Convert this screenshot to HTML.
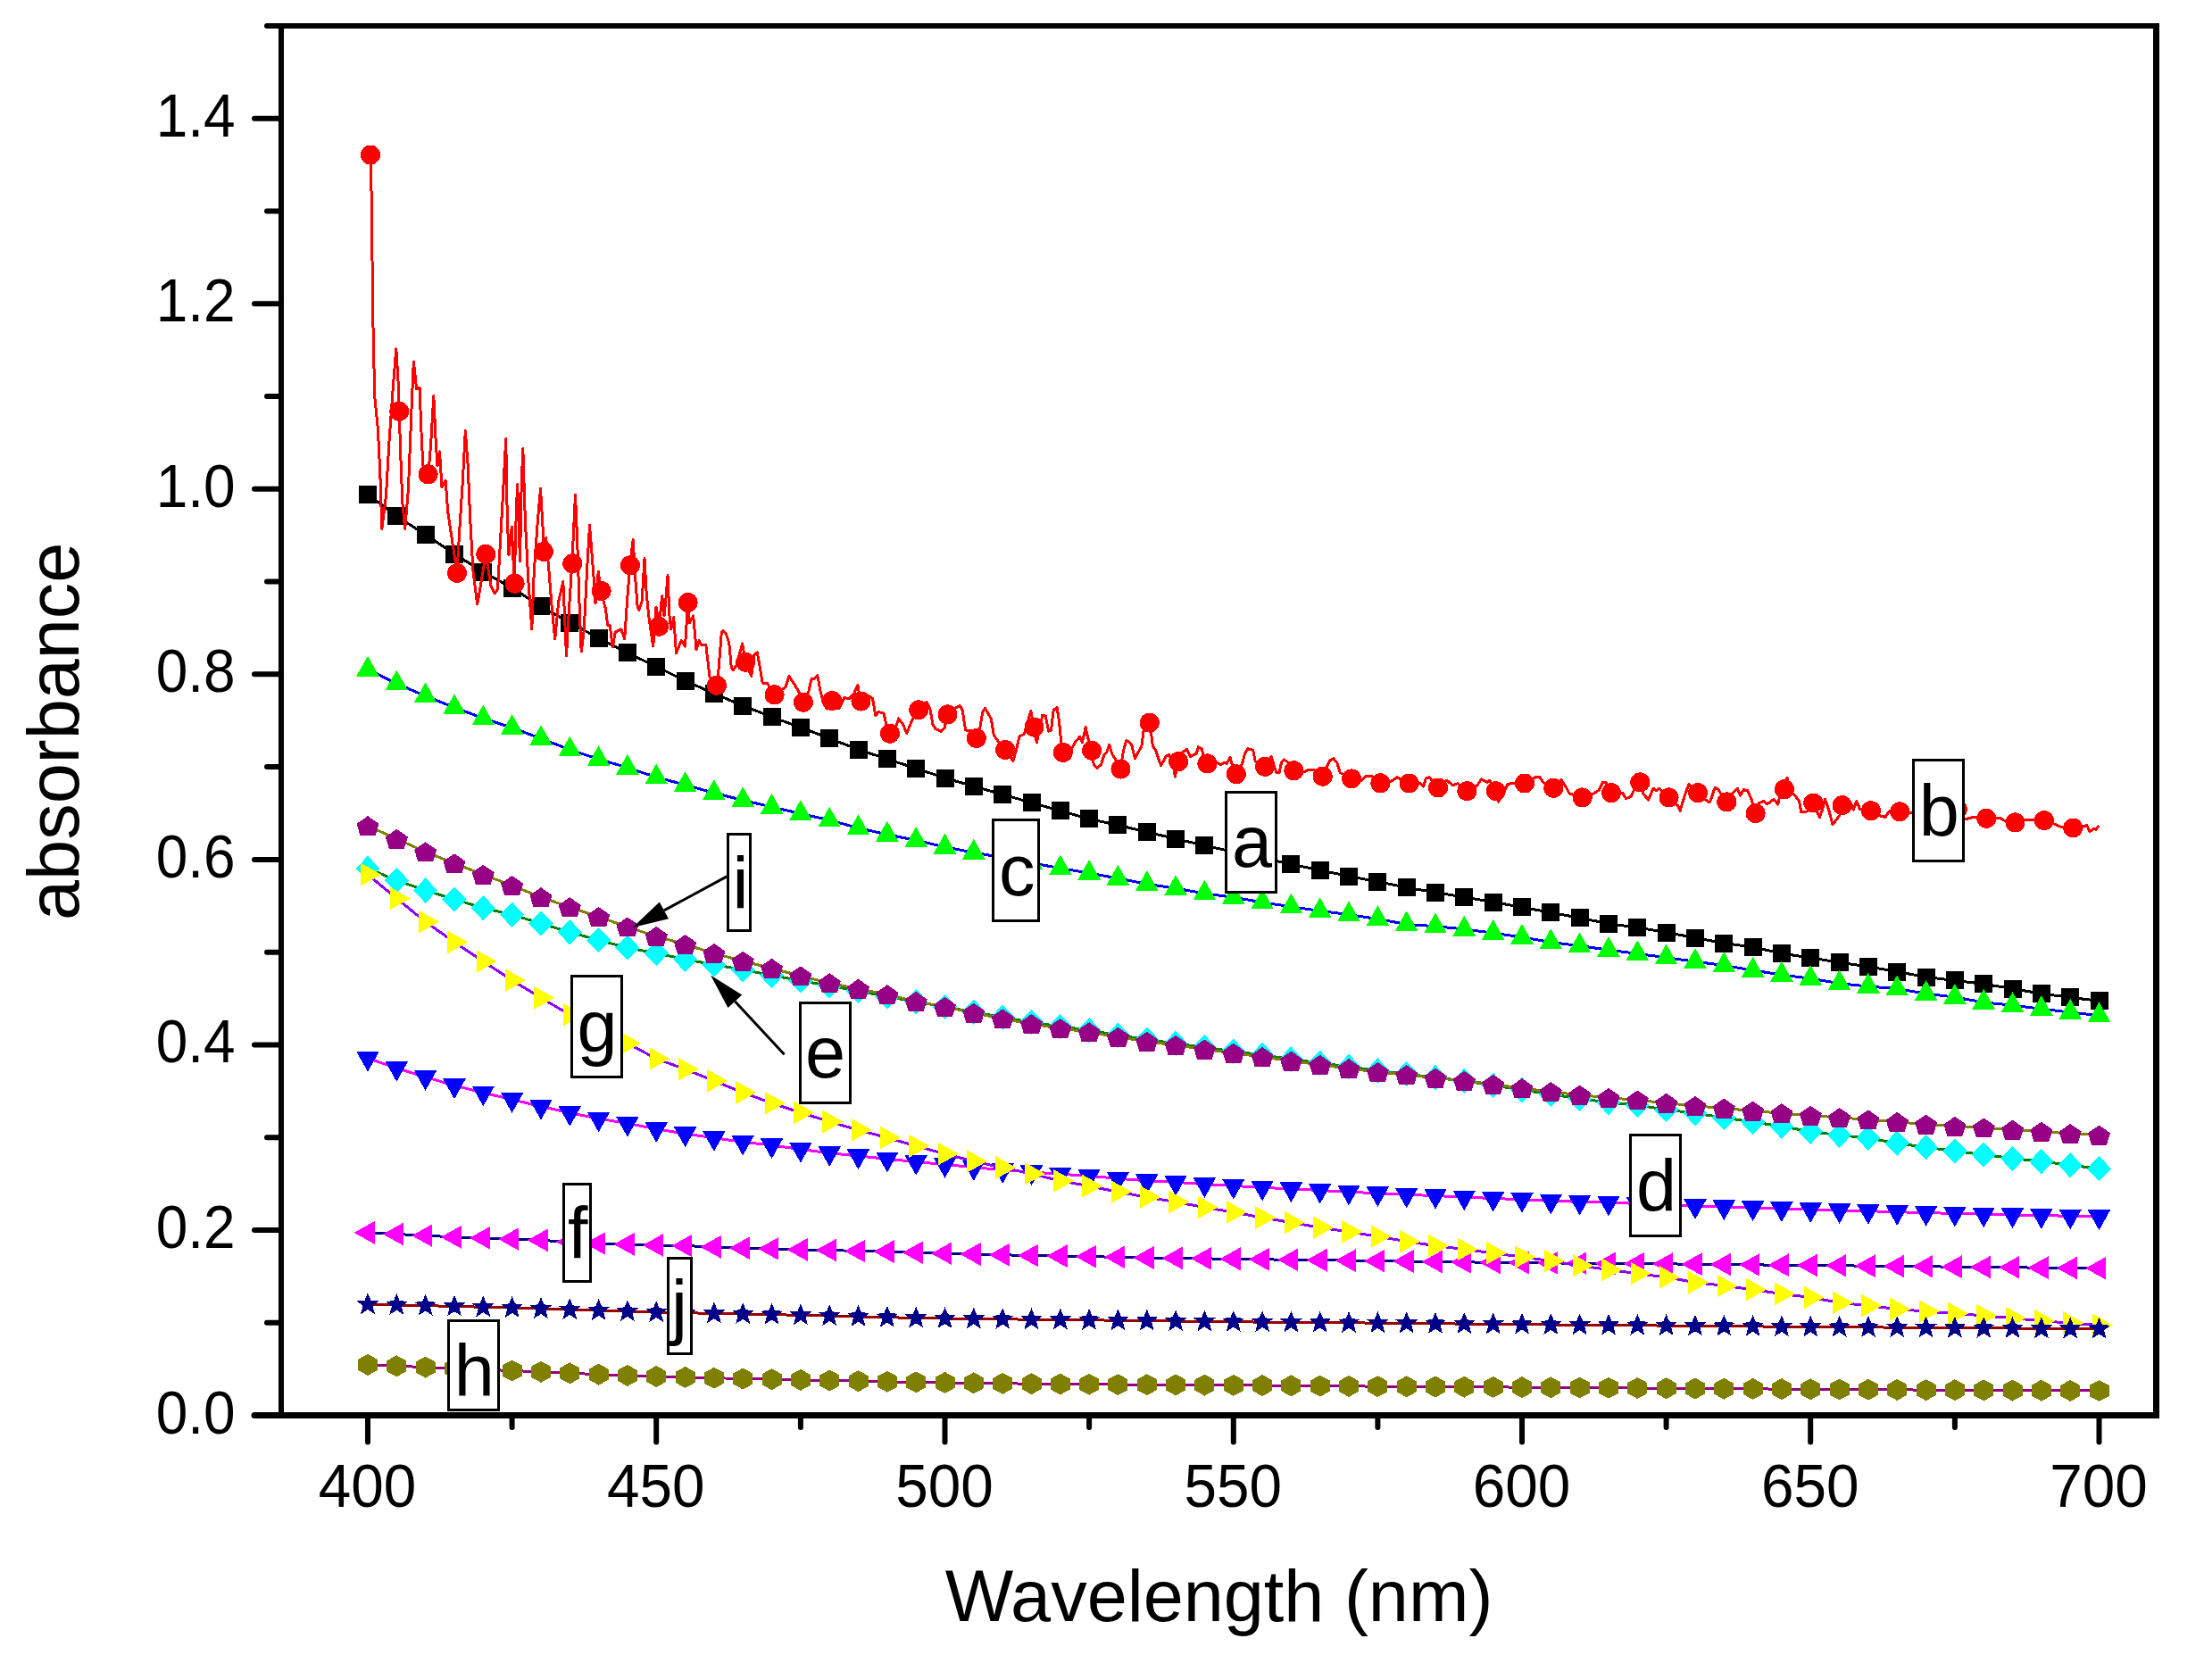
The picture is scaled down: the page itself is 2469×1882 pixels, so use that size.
<!DOCTYPE html>
<html lang="en"><head><meta charset="utf-8"><title>Absorbance vs Wavelength</title>
<style>html,body{margin:0;padding:0;background:#fff}body{width:2469px;height:1882px;overflow:hidden}svg text{font-kerning:normal}</style>
</head><body>
<svg width="2469" height="1882" viewBox="0 0 2469 1882" style="display:block">
<rect width="2469" height="1882" fill="#fff"/>
<g shape-rendering="crispEdges">
<polyline points="412.0,553.7 444.3,578.1 476.6,599.0 509.0,620.5 541.3,640.8 573.6,658.5 606.0,679.4 638.3,697.6 670.6,714.7 702.9,731.4 735.2,746.8 767.6,762.6 799.9,777.0 832.2,790.5 864.5,803.1 896.9,815.0 929.2,827.1 961.5,839.7 993.9,850.3 1026.2,860.9 1058.5,871.5 1090.8,880.8 1123.2,890.0 1155.5,899.2 1187.8,908.3 1220.1,917.4 1252.4,924.3 1284.8,932.2 1317.1,939.6 1349.4,947.2 1381.8,954.3 1414.1,961.3 1446.4,968.1 1478.7,974.9 1511.0,981.5 1543.4,987.7 1575.7,994.2 1608.0,999.8 1640.3,1005.0 1672.7,1010.5 1705.0,1016.4 1737.3,1022.2 1769.6,1028.3 1802.0,1034.7 1834.3,1039.0 1866.6,1044.5 1899.0,1050.5 1931.3,1056.6 1963.6,1060.9 1995.9,1068.1 2028.2,1073.0 2060.6,1078.2 2092.9,1082.8 2125.2,1088.6 2157.6,1094.5 2189.9,1098.4 2222.2,1102.3 2254.5,1107.6 2286.8,1113.1 2319.2,1117.4 2351.5,1121.3" fill="none" stroke="#000000" stroke-width="3"/>
<g fill="#000000"><polygon points="402.0,543.7 422.0,543.7 422.0,563.7 402.0,563.7"/><polygon points="434.3,568.1 454.3,568.1 454.3,588.1 434.3,588.1"/><polygon points="466.6,589.0 486.6,589.0 486.6,609.0 466.6,609.0"/><polygon points="499.0,610.5 519.0,610.5 519.0,630.5 499.0,630.5"/><polygon points="531.3,630.8 551.3,630.8 551.3,650.8 531.3,650.8"/><polygon points="563.6,648.5 583.6,648.5 583.6,668.5 563.6,668.5"/><polygon points="596.0,669.4 616.0,669.4 616.0,689.4 596.0,689.4"/><polygon points="628.3,687.6 648.3,687.6 648.3,707.6 628.3,707.6"/><polygon points="660.6,704.7 680.6,704.7 680.6,724.7 660.6,724.7"/><polygon points="692.9,721.4 712.9,721.4 712.9,741.4 692.9,741.4"/><polygon points="725.2,736.8 745.2,736.8 745.2,756.8 725.2,756.8"/><polygon points="757.6,752.6 777.6,752.6 777.6,772.6 757.6,772.6"/><polygon points="789.9,767.0 809.9,767.0 809.9,787.0 789.9,787.0"/><polygon points="822.2,780.5 842.2,780.5 842.2,800.5 822.2,800.5"/><polygon points="854.5,793.1 874.5,793.1 874.5,813.1 854.5,813.1"/><polygon points="886.9,805.0 906.9,805.0 906.9,825.0 886.9,825.0"/><polygon points="919.2,817.1 939.2,817.1 939.2,837.1 919.2,837.1"/><polygon points="951.5,829.7 971.5,829.7 971.5,849.7 951.5,849.7"/><polygon points="983.9,840.3 1003.9,840.3 1003.9,860.3 983.9,860.3"/><polygon points="1016.2,850.9 1036.2,850.9 1036.2,870.9 1016.2,870.9"/><polygon points="1048.5,861.5 1068.5,861.5 1068.5,881.5 1048.5,881.5"/><polygon points="1080.8,870.8 1100.8,870.8 1100.8,890.8 1080.8,890.8"/><polygon points="1113.2,880.0 1133.2,880.0 1133.2,900.0 1113.2,900.0"/><polygon points="1145.5,889.2 1165.5,889.2 1165.5,909.2 1145.5,909.2"/><polygon points="1177.8,898.3 1197.8,898.3 1197.8,918.3 1177.8,918.3"/><polygon points="1210.1,907.4 1230.1,907.4 1230.1,927.4 1210.1,927.4"/><polygon points="1242.4,914.3 1262.4,914.3 1262.4,934.3 1242.4,934.3"/><polygon points="1274.8,922.2 1294.8,922.2 1294.8,942.2 1274.8,942.2"/><polygon points="1307.1,929.6 1327.1,929.6 1327.1,949.6 1307.1,949.6"/><polygon points="1339.4,937.2 1359.4,937.2 1359.4,957.2 1339.4,957.2"/><polygon points="1371.8,944.3 1391.8,944.3 1391.8,964.3 1371.8,964.3"/><polygon points="1404.1,951.3 1424.1,951.3 1424.1,971.3 1404.1,971.3"/><polygon points="1436.4,958.1 1456.4,958.1 1456.4,978.1 1436.4,978.1"/><polygon points="1468.7,964.9 1488.7,964.9 1488.7,984.9 1468.7,984.9"/><polygon points="1501.0,971.5 1521.0,971.5 1521.0,991.5 1501.0,991.5"/><polygon points="1533.4,977.7 1553.4,977.7 1553.4,997.7 1533.4,997.7"/><polygon points="1565.7,984.2 1585.7,984.2 1585.7,1004.2 1565.7,1004.2"/><polygon points="1598.0,989.8 1618.0,989.8 1618.0,1009.8 1598.0,1009.8"/><polygon points="1630.3,995.0 1650.3,995.0 1650.3,1015.0 1630.3,1015.0"/><polygon points="1662.7,1000.5 1682.7,1000.5 1682.7,1020.5 1662.7,1020.5"/><polygon points="1695.0,1006.4 1715.0,1006.4 1715.0,1026.4 1695.0,1026.4"/><polygon points="1727.3,1012.2 1747.3,1012.2 1747.3,1032.2 1727.3,1032.2"/><polygon points="1759.6,1018.3 1779.6,1018.3 1779.6,1038.3 1759.6,1038.3"/><polygon points="1792.0,1024.7 1812.0,1024.7 1812.0,1044.7 1792.0,1044.7"/><polygon points="1824.3,1029.0 1844.3,1029.0 1844.3,1049.0 1824.3,1049.0"/><polygon points="1856.6,1034.5 1876.6,1034.5 1876.6,1054.5 1856.6,1054.5"/><polygon points="1889.0,1040.5 1909.0,1040.5 1909.0,1060.5 1889.0,1060.5"/><polygon points="1921.3,1046.6 1941.3,1046.6 1941.3,1066.6 1921.3,1066.6"/><polygon points="1953.6,1050.9 1973.6,1050.9 1973.6,1070.9 1953.6,1070.9"/><polygon points="1985.9,1058.1 2005.9,1058.1 2005.9,1078.1 1985.9,1078.1"/><polygon points="2018.2,1063.0 2038.2,1063.0 2038.2,1083.0 2018.2,1083.0"/><polygon points="2050.6,1068.2 2070.6,1068.2 2070.6,1088.2 2050.6,1088.2"/><polygon points="2082.9,1072.8 2102.9,1072.8 2102.9,1092.8 2082.9,1092.8"/><polygon points="2115.2,1078.6 2135.2,1078.6 2135.2,1098.6 2115.2,1098.6"/><polygon points="2147.6,1084.5 2167.6,1084.5 2167.6,1104.5 2147.6,1104.5"/><polygon points="2179.9,1088.4 2199.9,1088.4 2199.9,1108.4 2179.9,1108.4"/><polygon points="2212.2,1092.3 2232.2,1092.3 2232.2,1112.3 2212.2,1112.3"/><polygon points="2244.5,1097.6 2264.5,1097.6 2264.5,1117.6 2244.5,1117.6"/><polygon points="2276.8,1103.1 2296.8,1103.1 2296.8,1123.1 2276.8,1123.1"/><polygon points="2309.2,1107.4 2329.2,1107.4 2329.2,1127.4 2309.2,1127.4"/><polygon points="2341.5,1111.3 2361.5,1111.3 2361.5,1131.3 2341.5,1131.3"/></g>
<polyline points="415.5,173.5 417.5,330.0 418.3,388.0 420.0,446.7 423.3,480.0 425.8,530.0 427.8,592.5 432.5,555.0 435.8,496.7 440.0,438.0 443.8,390.8 446.7,438.0 448.3,496.7 450.8,563.0 453.7,592.5 457.5,546.7 460.8,463.0 463.3,405.0 466.7,435.8 470.0,434.0 472.5,496.7 474.0,521.7 479.7,531.3 482.5,500.0 485.8,443.3 488.3,496.7 490.0,521.7 492.5,505.8 495.0,545.8 499.2,538.3 501.7,573.3 506.7,606.7 512.0,641.0 515.0,590.0 518.3,540.0 521.3,482.5 524.2,521.7 526.7,581.7 530.0,640.0 534.7,677.0 538.3,656.7 544.2,620.8 550.0,656.7 554.2,665.0 557.5,660.0 560.0,615.0 563.3,556.7 566.7,491.7 568.3,581.7 570.0,621.7 573.3,590.0 576.2,653.7 578.3,573.3 579.7,542.5 582.5,629.0 584.2,542.5 585.8,502.5 588.3,581.7 591.7,648.3 595.8,705.0 598.3,640.0 602.5,581.7 605.5,547.5 607.5,581.7 609.2,610.0 611.7,602.5 615.0,640.0 618.3,681.7 621.7,715.8 625.8,673.3 630.8,651.7 632.5,690.0 634.5,735.0 637.5,681.7 640.8,631.5 644.5,554.2 646.7,606.7 649.2,681.7 651.2,730.0 654.2,706.7 657.5,640.0 660.5,588.3 663.3,623.3 665.8,656.7 667.0,675.8 670.3,640.0 673.0,662.0 678.3,681.7 680.8,700.8 683.3,700.8 686.2,725.0 689.2,708.3 695.8,705.0 699.7,715.8 702.5,673.3 705.8,633.3 709.2,604.2 711.7,648.3 714.2,680.0 715.8,683.3 719.2,673.3 722.0,625.8 724.2,665.0 726.7,690.0 731.7,724.0 735.0,680.0 736.7,690.0 738.3,701.7 741.7,667.5 744.0,690.0 746.0,670.0 748.0,644.7 750.0,690.0 751.7,705.0 754.7,691.7 757.5,731.7 763.3,717.5 767.5,724.0 769.0,700.0 770.5,675.0 772.5,697.5 776.7,690.0 780.0,727.5 783.3,717.5 785.8,722.5 790.8,722.5 795.0,758.3 802.8,767.8 805.0,750.0 808.3,708.3 810.0,706.7 813.3,710.0 816.7,720.0 819.2,746.7 821.3,750.8 825.0,745.0 831.7,720.8 835.0,741.7 841.7,757.5 845.0,733.3 848.3,730.8 851.7,750.0 854.2,765.0 859.2,765.0 867.2,778.3 880.0,770.0 883.8,757.5 890.0,766.7 895.8,776.7 900.0,786.7 905.8,775.0 909.2,760.0 911.7,761.0 915.8,756.7 919.2,775.0 922.5,788.3 926.7,794.2 932.5,792.0 940.0,793.3 945.8,781.7 951.7,782.5 956.7,776.7 960.8,767.5 964.2,785.5 968.3,776.7 977.5,782.5 980.8,801.7 984.2,797.5 990.0,799.2 993.3,813.3 996.7,821.7 1003.3,815.0 1006.7,805.0 1011.7,811.7 1015.8,821.7 1021.7,806.7 1029.2,795.3 1038.3,786.7 1041.7,793.3 1045.0,811.7 1048.3,816.7 1054.2,819.2 1058.3,815.0 1061.2,800.5 1070.2,793.0 1075.4,790.7 1078.1,795.3 1081.6,818.0 1089.5,818.0 1094.0,827.0 1097.4,818.0 1100.8,797.5 1103.6,793.5 1110.4,805.5 1113.3,823.6 1119.0,831.6 1125.8,840.0 1134.9,852.5 1138.3,840.7 1142.1,824.8 1147.3,822.5 1151.9,806.6 1154.8,796.4 1158.0,814.6 1161.4,831.6 1164.4,818.0 1167.8,801.0 1171.2,802.1 1174.6,819.1 1177.5,818.0 1180.2,795.3 1184.1,792.6 1186.6,808.9 1188.9,833.8 1190.0,842.9 1200.7,838.4 1205.2,830.4 1209.7,825.2 1212.5,831.6 1216.1,814.6 1218.8,827.0 1222.9,840.7 1225.2,856.5 1229.0,860.6 1233.5,856.5 1237.0,845.2 1239.7,842.9 1242.6,834.3 1246.0,845.2 1250.6,852.0 1255.1,861.5 1258.5,840.7 1261.9,829.3 1267.6,833.8 1271.4,849.7 1275.5,841.8 1278.9,836.1 1281.2,818.0 1288.0,809.6 1290.3,827.0 1291.4,836.1 1294.8,840.7 1300.5,857.7 1306.1,847.5 1309.5,845.2 1314.1,856.5 1316.4,870.1 1319.8,853.1 1324.3,842.9 1329.5,839.5 1333.4,847.5 1340.2,844.1 1342.4,836.8 1346.3,838.8 1348.1,847.5 1352.0,855.4 1362.9,854.3 1367.4,856.5 1371.9,854.3 1374.2,855.4 1378.1,848.6 1381.0,858.8 1384.4,867.2 1391.2,856.5 1394.6,844.1 1398.0,838.8 1403.7,840.2 1406.0,852.0 1409.4,856.5 1416.6,858.8 1424.1,847.5 1429.8,865.6 1433.2,865.2 1435.5,854.3 1438.4,850.9 1443.4,854.3 1449.1,863.3 1461.5,864.5 1466.1,862.2 1475.2,863.3 1481.3,869.7 1486.5,858.8 1489.9,852.0 1493.8,849.7 1497.8,854.3 1501.2,865.6 1505.8,867.9 1513.7,872.4 1525.1,874.7 1530.7,869.0 1536.4,869.0 1545.5,877.0 1558.4,875.3 1565.2,870.7 1577.6,877.5 1591.3,877.5 1594.7,881.0 1597.4,871.9 1601.5,870.7 1610.5,882.5 1620.7,874.1 1627.5,879.8 1633.2,877.5 1643.0,886.2 1654.8,879.8 1659.3,873.0 1666.1,876.4 1668.8,874.1 1675.2,886.2 1678.6,898.0 1685.4,886.6 1688.8,878.7 1693.3,877.5 1707.4,877.5 1720.6,870.3 1725.1,870.7 1729.6,877.5 1739.8,882.8 1748.9,873.5 1754.6,882.1 1758.0,888.9 1772.1,893.4 1785.2,888.9 1790.9,885.5 1795.4,876.4 1798.8,876.4 1804.5,888.2 1818.1,888.9 1821.5,894.6 1827.2,892.3 1831.7,882.1 1836.7,876.4 1840.8,888.9 1846.5,896.2 1852.1,883.2 1855.5,885.5 1858.9,883.2 1869.2,893.4 1879.4,902.5 1882.1,908.2 1887.3,891.2 1891.8,878.7 1901.4,888.2 1913.4,898.0 1915.7,898.0 1921.3,882.1 1924.7,884.4 1933.8,898.4 1940.6,888.9 1946.3,883.2 1949.7,891.2 1953.1,884.8 1957.6,885.5 1962.2,895.7 1966.0,911.1 1970.2,899.8 1975.9,897.5 1979.3,901.0 1987.2,895.3 1991.8,901.0 1994.0,890.7 1998.6,883.9 2002.0,871.5 2004.2,883.9 2012.2,893.0 2015.6,897.5 2017.8,910.0 2024.7,908.9 2030.8,899.8 2038.3,915.7 2041.7,906.6 2044.4,895.3 2048.5,906.6 2053.0,923.6 2061.0,913.4 2063.2,902.1 2073.4,899.8 2076.2,907.1 2079.8,897.5 2083.6,906.6 2095.7,908.2 2107.5,914.6 2112.0,915.2 2116.5,908.9 2127.9,909.3 2141.5,910.7 2160.5,910.0 2193.0,906.6 2200.9,918.0 2209.5,915.7 2225.0,916.8 2241.3,916.8 2247.0,920.2 2257.2,921.4 2270.8,918.0 2289.6,919.1 2302.6,923.6 2307.1,925.9 2321.8,927.5 2334.3,925.9 2337.7,924.3 2341.1,931.6 2345.7,928.2 2347.9,929.3 2351.3,924.8" fill="none" stroke="#ff0000" stroke-width="3" stroke-linejoin="round"/>
<g fill="#ff0000"><circle cx="415.0" cy="173.5" r="11"/><circle cx="447.3" cy="460.8" r="11"/><circle cx="479.6" cy="531.3" r="11"/><circle cx="512.0" cy="642.0" r="11"/><circle cx="544.3" cy="620.8" r="11"/><circle cx="576.6" cy="653.7" r="11"/><circle cx="609.0" cy="618.0" r="11"/><circle cx="641.3" cy="631.3" r="11"/><circle cx="673.6" cy="662.0" r="11"/><circle cx="705.9" cy="633.3" r="11"/><circle cx="738.2" cy="701.7" r="11"/><circle cx="770.6" cy="675.0" r="11"/><circle cx="802.9" cy="767.8" r="11"/><circle cx="835.2" cy="741.7" r="11"/><circle cx="867.6" cy="778.3" r="11"/><circle cx="899.9" cy="786.7" r="11"/><circle cx="932.2" cy="785.0" r="11"/><circle cx="964.5" cy="785.5" r="11"/><circle cx="996.9" cy="821.7" r="11"/><circle cx="1029.2" cy="795.3" r="11"/><circle cx="1061.5" cy="800.4" r="11"/><circle cx="1093.8" cy="827.0" r="11"/><circle cx="1126.2" cy="840.0" r="11"/><circle cx="1158.5" cy="814.6" r="11"/><circle cx="1190.8" cy="842.9" r="11"/><circle cx="1223.1" cy="840.7" r="11"/><circle cx="1255.5" cy="861.5" r="11"/><circle cx="1287.8" cy="809.6" r="11"/><circle cx="1320.1" cy="853.1" r="11"/><circle cx="1352.4" cy="855.4" r="11"/><circle cx="1384.8" cy="867.2" r="11"/><circle cx="1417.1" cy="858.8" r="11"/><circle cx="1449.4" cy="863.3" r="11"/><circle cx="1481.7" cy="869.7" r="11"/><circle cx="1514.1" cy="872.4" r="11"/><circle cx="1546.4" cy="877.3" r="11"/><circle cx="1578.7" cy="877.5" r="11"/><circle cx="1611.0" cy="882.5" r="11"/><circle cx="1643.4" cy="886.2" r="11"/><circle cx="1675.7" cy="886.2" r="11"/><circle cx="1708.0" cy="877.5" r="11"/><circle cx="1740.3" cy="882.8" r="11"/><circle cx="1772.7" cy="893.4" r="11"/><circle cx="1805.0" cy="888.2" r="11"/><circle cx="1837.3" cy="876.4" r="11"/><circle cx="1869.6" cy="893.4" r="11"/><circle cx="1902.0" cy="888.2" r="11"/><circle cx="1934.3" cy="898.4" r="11"/><circle cx="1966.6" cy="911.1" r="11"/><circle cx="1998.9" cy="884.2" r="11"/><circle cx="2031.3" cy="899.5" r="11"/><circle cx="2063.6" cy="902.1" r="11"/><circle cx="2095.9" cy="908.2" r="11"/><circle cx="2128.2" cy="909.3" r="11"/><circle cx="2160.6" cy="908.5" r="11"/><circle cx="2192.9" cy="906.6" r="11"/><circle cx="2225.2" cy="916.8" r="11"/><circle cx="2257.5" cy="921.4" r="11"/><circle cx="2289.9" cy="919.1" r="11"/><circle cx="2322.2" cy="927.5" r="11"/></g>
<polyline points="412.0,750.0 444.3,765.8 476.6,779.7 509.0,792.5 541.3,804.7 573.6,815.3 606.0,827.3 638.3,839.8 670.6,850.4 702.9,860.0 735.2,870.6 767.6,879.3 799.9,888.3 832.2,896.4 864.5,904.0 896.9,911.4 929.2,918.8 961.5,927.5 993.9,934.9 1026.2,941.3 1058.5,948.9 1090.8,955.0 1123.2,960.8 1155.5,966.7 1187.8,972.6 1220.1,978.1 1252.4,984.0 1284.8,990.3 1317.1,995.2 1349.4,1000.8 1381.8,1005.3 1414.1,1010.8 1446.4,1015.8 1478.7,1020.4 1511.0,1024.6 1543.4,1029.5 1575.7,1035.4 1608.0,1037.7 1640.3,1040.9 1672.7,1045.2 1705.0,1050.0 1737.3,1055.5 1769.6,1059.6 1802.0,1064.2 1834.3,1068.4 1866.6,1072.7 1899.0,1077.2 1931.3,1081.5 1963.6,1087.0 1995.9,1092.0 2028.2,1096.2 2060.6,1101.7 2092.9,1105.0 2125.2,1107.6 2157.6,1113.1 2189.9,1117.1 2222.2,1122.9 2254.5,1126.2 2286.8,1130.2 2319.2,1134.1 2351.5,1137.6" fill="none" stroke="#0000ff" stroke-width="3"/>
<g fill="#00ff00"><polygon points="412.0,734.8 424.8,757.6 399.2,757.6"/><polygon points="444.3,750.6 457.1,773.4 431.5,773.4"/><polygon points="476.6,764.5 489.4,787.3 463.8,787.3"/><polygon points="509.0,777.3 521.8,800.1 496.2,800.1"/><polygon points="541.3,789.5 554.1,812.3 528.5,812.3"/><polygon points="573.6,800.1 586.4,822.9 560.8,822.9"/><polygon points="606.0,812.1 618.8,834.9 593.2,834.9"/><polygon points="638.3,824.6 651.1,847.4 625.5,847.4"/><polygon points="670.6,835.2 683.4,858.0 657.8,858.0"/><polygon points="702.9,844.8 715.7,867.6 690.1,867.6"/><polygon points="735.2,855.4 748.0,878.2 722.5,878.2"/><polygon points="767.6,864.1 780.4,886.9 754.8,886.9"/><polygon points="799.9,873.1 812.7,895.9 787.1,895.9"/><polygon points="832.2,881.2 845.0,904.0 819.4,904.0"/><polygon points="864.5,888.8 877.3,911.6 851.8,911.6"/><polygon points="896.9,896.2 909.7,919.0 884.1,919.0"/><polygon points="929.2,903.6 942.0,926.4 916.4,926.4"/><polygon points="961.5,912.3 974.3,935.1 948.7,935.1"/><polygon points="993.9,919.7 1006.6,942.5 981.1,942.5"/><polygon points="1026.2,926.1 1039.0,948.9 1013.4,948.9"/><polygon points="1058.5,933.7 1071.3,956.5 1045.7,956.5"/><polygon points="1090.8,939.8 1103.6,962.6 1078.0,962.6"/><polygon points="1123.2,945.6 1136.0,968.4 1110.4,968.4"/><polygon points="1155.5,951.5 1168.3,974.3 1142.7,974.3"/><polygon points="1187.8,957.4 1200.6,980.2 1175.0,980.2"/><polygon points="1220.1,962.9 1232.9,985.7 1207.3,985.7"/><polygon points="1252.4,968.8 1265.2,991.6 1239.6,991.6"/><polygon points="1284.8,975.1 1297.6,997.9 1272.0,997.9"/><polygon points="1317.1,980.0 1329.9,1002.8 1304.3,1002.8"/><polygon points="1349.4,985.6 1362.2,1008.4 1336.6,1008.4"/><polygon points="1381.8,990.1 1394.5,1012.9 1369.0,1012.9"/><polygon points="1414.1,995.6 1426.9,1018.4 1401.3,1018.4"/><polygon points="1446.4,1000.6 1459.2,1023.4 1433.6,1023.4"/><polygon points="1478.7,1005.2 1491.5,1028.0 1465.9,1028.0"/><polygon points="1511.0,1009.4 1523.8,1032.2 1498.2,1032.2"/><polygon points="1543.4,1014.3 1556.2,1037.1 1530.6,1037.1"/><polygon points="1575.7,1020.2 1588.5,1043.0 1562.9,1043.0"/><polygon points="1608.0,1022.5 1620.8,1045.3 1595.2,1045.3"/><polygon points="1640.3,1025.7 1653.1,1048.5 1627.5,1048.5"/><polygon points="1672.7,1030.0 1685.5,1052.8 1659.9,1052.8"/><polygon points="1705.0,1034.8 1717.8,1057.6 1692.2,1057.6"/><polygon points="1737.3,1040.3 1750.1,1063.1 1724.5,1063.1"/><polygon points="1769.6,1044.4 1782.4,1067.2 1756.8,1067.2"/><polygon points="1802.0,1049.0 1814.8,1071.8 1789.2,1071.8"/><polygon points="1834.3,1053.2 1847.1,1076.0 1821.5,1076.0"/><polygon points="1866.6,1057.5 1879.4,1080.3 1853.8,1080.3"/><polygon points="1899.0,1062.0 1911.8,1084.8 1886.2,1084.8"/><polygon points="1931.3,1066.3 1944.1,1089.1 1918.5,1089.1"/><polygon points="1963.6,1071.8 1976.4,1094.6 1950.8,1094.6"/><polygon points="1995.9,1076.8 2008.7,1099.6 1983.1,1099.6"/><polygon points="2028.2,1081.0 2041.0,1103.8 2015.5,1103.8"/><polygon points="2060.6,1086.5 2073.4,1109.3 2047.8,1109.3"/><polygon points="2092.9,1089.8 2105.7,1112.6 2080.1,1112.6"/><polygon points="2125.2,1092.4 2138.0,1115.2 2112.4,1115.2"/><polygon points="2157.6,1097.9 2170.4,1120.7 2144.8,1120.7"/><polygon points="2189.9,1101.9 2202.7,1124.7 2177.1,1124.7"/><polygon points="2222.2,1107.7 2235.0,1130.5 2209.4,1130.5"/><polygon points="2254.5,1111.0 2267.3,1133.8 2241.7,1133.8"/><polygon points="2286.8,1115.0 2299.7,1137.8 2274.0,1137.8"/><polygon points="2319.2,1118.9 2332.0,1141.7 2306.4,1141.7"/><polygon points="2351.5,1122.4 2364.3,1145.2 2338.7,1145.2"/></g>
<polyline points="412.0,1185.5 444.3,1196.5 476.6,1206.6 509.0,1216.0 541.3,1224.1 573.6,1231.7 606.0,1239.5 638.3,1246.6 670.6,1253.1 702.9,1258.5 735.2,1264.7 767.6,1270.0 799.9,1274.7 832.2,1279.4 864.5,1282.9 896.9,1287.5 929.2,1291.7 961.5,1294.9 993.9,1298.3 1026.2,1301.5 1058.5,1304.5 1090.8,1307.7 1123.2,1310.7 1155.5,1313.0 1187.8,1315.3 1220.1,1317.3 1252.4,1320.2 1284.8,1322.8 1317.1,1324.4 1349.4,1326.7 1381.8,1328.4 1414.1,1330.3 1446.4,1331.9 1478.7,1333.5 1511.0,1335.2 1543.4,1336.8 1575.7,1338.4 1608.0,1339.5 1640.3,1341.1 1672.7,1342.5 1705.0,1343.7 1737.3,1345.3 1769.6,1346.3 1802.0,1347.2 1834.3,1348.4 1866.6,1349.7 1899.0,1350.9 1931.3,1351.9 1963.6,1352.9 1995.9,1353.9 2028.2,1354.8 2060.6,1355.8 2092.9,1356.7 2125.2,1357.7 2157.6,1358.6 2189.9,1359.4 2222.2,1360.2 2254.5,1360.9 2286.8,1361.6 2319.2,1362.3 2351.5,1362.9" fill="none" stroke="#ff00ff" stroke-width="3"/>
<g fill="#0000ff"><polygon points="412.0,1200.7 424.8,1177.9 399.2,1177.9"/><polygon points="444.3,1211.7 457.1,1188.9 431.5,1188.9"/><polygon points="476.6,1221.8 489.4,1199.0 463.8,1199.0"/><polygon points="509.0,1231.2 521.8,1208.4 496.2,1208.4"/><polygon points="541.3,1239.3 554.1,1216.5 528.5,1216.5"/><polygon points="573.6,1246.9 586.4,1224.1 560.8,1224.1"/><polygon points="606.0,1254.7 618.8,1231.9 593.2,1231.9"/><polygon points="638.3,1261.8 651.1,1239.0 625.5,1239.0"/><polygon points="670.6,1268.3 683.4,1245.5 657.8,1245.5"/><polygon points="702.9,1273.7 715.7,1250.9 690.1,1250.9"/><polygon points="735.2,1279.9 748.0,1257.1 722.5,1257.1"/><polygon points="767.6,1285.2 780.4,1262.4 754.8,1262.4"/><polygon points="799.9,1289.9 812.7,1267.1 787.1,1267.1"/><polygon points="832.2,1294.6 845.0,1271.8 819.4,1271.8"/><polygon points="864.5,1298.1 877.3,1275.3 851.8,1275.3"/><polygon points="896.9,1302.7 909.7,1279.9 884.1,1279.9"/><polygon points="929.2,1306.9 942.0,1284.1 916.4,1284.1"/><polygon points="961.5,1310.1 974.3,1287.3 948.7,1287.3"/><polygon points="993.9,1313.5 1006.6,1290.7 981.1,1290.7"/><polygon points="1026.2,1316.7 1039.0,1293.9 1013.4,1293.9"/><polygon points="1058.5,1319.7 1071.3,1296.9 1045.7,1296.9"/><polygon points="1090.8,1322.9 1103.6,1300.1 1078.0,1300.1"/><polygon points="1123.2,1325.9 1136.0,1303.1 1110.4,1303.1"/><polygon points="1155.5,1328.2 1168.3,1305.4 1142.7,1305.4"/><polygon points="1187.8,1330.5 1200.6,1307.7 1175.0,1307.7"/><polygon points="1220.1,1332.5 1232.9,1309.7 1207.3,1309.7"/><polygon points="1252.4,1335.4 1265.2,1312.6 1239.6,1312.6"/><polygon points="1284.8,1338.0 1297.6,1315.2 1272.0,1315.2"/><polygon points="1317.1,1339.6 1329.9,1316.8 1304.3,1316.8"/><polygon points="1349.4,1341.9 1362.2,1319.1 1336.6,1319.1"/><polygon points="1381.8,1343.6 1394.5,1320.8 1369.0,1320.8"/><polygon points="1414.1,1345.5 1426.9,1322.7 1401.3,1322.7"/><polygon points="1446.4,1347.1 1459.2,1324.3 1433.6,1324.3"/><polygon points="1478.7,1348.7 1491.5,1325.9 1465.9,1325.9"/><polygon points="1511.0,1350.4 1523.8,1327.6 1498.2,1327.6"/><polygon points="1543.4,1352.0 1556.2,1329.2 1530.6,1329.2"/><polygon points="1575.7,1353.6 1588.5,1330.8 1562.9,1330.8"/><polygon points="1608.0,1354.7 1620.8,1331.9 1595.2,1331.9"/><polygon points="1640.3,1356.3 1653.1,1333.5 1627.5,1333.5"/><polygon points="1672.7,1357.7 1685.5,1334.9 1659.9,1334.9"/><polygon points="1705.0,1358.9 1717.8,1336.1 1692.2,1336.1"/><polygon points="1737.3,1360.5 1750.1,1337.7 1724.5,1337.7"/><polygon points="1769.6,1361.5 1782.4,1338.7 1756.8,1338.7"/><polygon points="1802.0,1362.4 1814.8,1339.6 1789.2,1339.6"/><polygon points="1834.3,1363.6 1847.1,1340.8 1821.5,1340.8"/><polygon points="1866.6,1364.9 1879.4,1342.1 1853.8,1342.1"/><polygon points="1899.0,1366.1 1911.8,1343.3 1886.2,1343.3"/><polygon points="1931.3,1367.1 1944.1,1344.3 1918.5,1344.3"/><polygon points="1963.6,1368.1 1976.4,1345.3 1950.8,1345.3"/><polygon points="1995.9,1369.1 2008.7,1346.3 1983.1,1346.3"/><polygon points="2028.2,1370.0 2041.0,1347.2 2015.5,1347.2"/><polygon points="2060.6,1371.0 2073.4,1348.2 2047.8,1348.2"/><polygon points="2092.9,1371.9 2105.7,1349.1 2080.1,1349.1"/><polygon points="2125.2,1372.9 2138.0,1350.1 2112.4,1350.1"/><polygon points="2157.6,1373.8 2170.4,1351.0 2144.8,1351.0"/><polygon points="2189.9,1374.6 2202.7,1351.8 2177.1,1351.8"/><polygon points="2222.2,1375.4 2235.0,1352.6 2209.4,1352.6"/><polygon points="2254.5,1376.1 2267.3,1353.3 2241.7,1353.3"/><polygon points="2286.8,1376.8 2299.7,1354.0 2274.0,1354.0"/><polygon points="2319.2,1377.5 2332.0,1354.7 2306.4,1354.7"/><polygon points="2351.5,1378.1 2364.3,1355.3 2338.7,1355.3"/></g>
<polyline points="412.0,973.0 444.3,986.1 476.6,997.5 509.0,1007.4 541.3,1017.2 573.6,1024.7 606.0,1034.5 638.3,1044.3 670.6,1053.2 702.9,1061.6 735.2,1067.9 767.6,1074.7 799.9,1080.7 832.2,1086.2 864.5,1092.7 896.9,1098.5 929.2,1104.4 961.5,1110.0 993.9,1116.5 1026.2,1122.1 1058.5,1128.0 1090.8,1133.7 1123.2,1139.7 1155.5,1145.0 1187.8,1150.0 1220.1,1154.1 1252.4,1159.7 1284.8,1164.6 1317.1,1168.9 1349.4,1173.4 1381.8,1177.7 1414.1,1181.9 1446.4,1186.5 1478.7,1190.8 1511.0,1195.0 1543.4,1199.5 1575.7,1203.2 1608.0,1207.1 1640.3,1210.8 1672.7,1215.8 1705.0,1221.1 1737.3,1225.8 1769.6,1230.8 1802.0,1235.0 1834.3,1238.0 1866.6,1243.2 1899.0,1247.1 1931.3,1252.0 1963.6,1256.9 1995.9,1261.8 2028.2,1267.7 2060.6,1271.6 2092.9,1274.9 2125.2,1280.7 2157.6,1285.3 2189.9,1289.5 2222.2,1293.5 2254.5,1297.7 2286.8,1301.1 2319.2,1305.2 2351.5,1309.3" fill="none" stroke="#008000" stroke-width="3"/>
<g fill="#00ffff"><polygon points="412.0,958.8 425.6,973.0 412.0,987.2 398.4,973.0"/><polygon points="444.3,971.9 457.9,986.1 444.3,1000.3 430.7,986.1"/><polygon points="476.6,983.3 490.2,997.5 476.6,1011.7 463.0,997.5"/><polygon points="509.0,993.2 522.6,1007.4 509.0,1021.6 495.4,1007.4"/><polygon points="541.3,1003.0 554.9,1017.2 541.3,1031.4 527.7,1017.2"/><polygon points="573.6,1010.5 587.2,1024.7 573.6,1038.9 560.0,1024.7"/><polygon points="606.0,1020.3 619.6,1034.5 606.0,1048.7 592.4,1034.5"/><polygon points="638.3,1030.1 651.9,1044.3 638.3,1058.5 624.7,1044.3"/><polygon points="670.6,1039.0 684.2,1053.2 670.6,1067.4 657.0,1053.2"/><polygon points="702.9,1047.4 716.5,1061.6 702.9,1075.8 689.3,1061.6"/><polygon points="735.2,1053.7 748.9,1067.9 735.2,1082.1 721.6,1067.9"/><polygon points="767.6,1060.5 781.2,1074.7 767.6,1088.9 754.0,1074.7"/><polygon points="799.9,1066.5 813.5,1080.7 799.9,1094.9 786.3,1080.7"/><polygon points="832.2,1072.0 845.8,1086.2 832.2,1100.4 818.6,1086.2"/><polygon points="864.5,1078.5 878.1,1092.7 864.5,1106.9 850.9,1092.7"/><polygon points="896.9,1084.3 910.5,1098.5 896.9,1112.7 883.3,1098.5"/><polygon points="929.2,1090.2 942.8,1104.4 929.2,1118.6 915.6,1104.4"/><polygon points="961.5,1095.8 975.1,1110.0 961.5,1124.2 947.9,1110.0"/><polygon points="993.9,1102.3 1007.5,1116.5 993.9,1130.7 980.2,1116.5"/><polygon points="1026.2,1107.9 1039.8,1122.1 1026.2,1136.3 1012.6,1122.1"/><polygon points="1058.5,1113.8 1072.1,1128.0 1058.5,1142.2 1044.9,1128.0"/><polygon points="1090.8,1119.5 1104.4,1133.7 1090.8,1147.9 1077.2,1133.7"/><polygon points="1123.2,1125.5 1136.8,1139.7 1123.2,1153.9 1109.6,1139.7"/><polygon points="1155.5,1130.8 1169.1,1145.0 1155.5,1159.2 1141.9,1145.0"/><polygon points="1187.8,1135.8 1201.4,1150.0 1187.8,1164.2 1174.2,1150.0"/><polygon points="1220.1,1139.9 1233.7,1154.1 1220.1,1168.3 1206.5,1154.1"/><polygon points="1252.4,1145.5 1266.0,1159.7 1252.4,1173.9 1238.8,1159.7"/><polygon points="1284.8,1150.4 1298.4,1164.6 1284.8,1178.8 1271.2,1164.6"/><polygon points="1317.1,1154.7 1330.7,1168.9 1317.1,1183.1 1303.5,1168.9"/><polygon points="1349.4,1159.2 1363.0,1173.4 1349.4,1187.6 1335.8,1173.4"/><polygon points="1381.8,1163.5 1395.3,1177.7 1381.8,1191.9 1368.2,1177.7"/><polygon points="1414.1,1167.7 1427.7,1181.9 1414.1,1196.1 1400.5,1181.9"/><polygon points="1446.4,1172.3 1460.0,1186.5 1446.4,1200.7 1432.8,1186.5"/><polygon points="1478.7,1176.6 1492.3,1190.8 1478.7,1205.0 1465.1,1190.8"/><polygon points="1511.0,1180.8 1524.6,1195.0 1511.0,1209.2 1497.5,1195.0"/><polygon points="1543.4,1185.3 1557.0,1199.5 1543.4,1213.7 1529.8,1199.5"/><polygon points="1575.7,1189.0 1589.3,1203.2 1575.7,1217.4 1562.1,1203.2"/><polygon points="1608.0,1192.9 1621.6,1207.1 1608.0,1221.3 1594.4,1207.1"/><polygon points="1640.3,1196.6 1653.9,1210.8 1640.3,1225.0 1626.8,1210.8"/><polygon points="1672.7,1201.6 1686.3,1215.8 1672.7,1230.0 1659.1,1215.8"/><polygon points="1705.0,1206.9 1718.6,1221.1 1705.0,1235.3 1691.4,1221.1"/><polygon points="1737.3,1211.6 1750.9,1225.8 1737.3,1240.0 1723.7,1225.8"/><polygon points="1769.6,1216.6 1783.2,1230.8 1769.6,1245.0 1756.0,1230.8"/><polygon points="1802.0,1220.8 1815.6,1235.0 1802.0,1249.2 1788.4,1235.0"/><polygon points="1834.3,1223.8 1847.9,1238.0 1834.3,1252.2 1820.7,1238.0"/><polygon points="1866.6,1229.0 1880.2,1243.2 1866.6,1257.4 1853.0,1243.2"/><polygon points="1899.0,1232.9 1912.5,1247.1 1899.0,1261.3 1885.4,1247.1"/><polygon points="1931.3,1237.8 1944.9,1252.0 1931.3,1266.2 1917.7,1252.0"/><polygon points="1963.6,1242.7 1977.2,1256.9 1963.6,1271.1 1950.0,1256.9"/><polygon points="1995.9,1247.6 2009.5,1261.8 1995.9,1276.0 1982.3,1261.8"/><polygon points="2028.2,1253.5 2041.8,1267.7 2028.2,1281.9 2014.7,1267.7"/><polygon points="2060.6,1257.4 2074.2,1271.6 2060.6,1285.8 2047.0,1271.6"/><polygon points="2092.9,1260.7 2106.5,1274.9 2092.9,1289.1 2079.3,1274.9"/><polygon points="2125.2,1266.5 2138.8,1280.7 2125.2,1294.9 2111.6,1280.7"/><polygon points="2157.6,1271.1 2171.2,1285.3 2157.6,1299.5 2144.0,1285.3"/><polygon points="2189.9,1275.3 2203.5,1289.5 2189.9,1303.7 2176.3,1289.5"/><polygon points="2222.2,1279.3 2235.8,1293.5 2222.2,1307.7 2208.6,1293.5"/><polygon points="2254.5,1283.5 2268.1,1297.7 2254.5,1311.9 2240.9,1297.7"/><polygon points="2286.8,1286.9 2300.4,1301.1 2286.8,1315.3 2273.2,1301.1"/><polygon points="2319.2,1291.0 2332.8,1305.2 2319.2,1319.4 2305.6,1305.2"/><polygon points="2351.5,1295.1 2365.1,1309.3 2351.5,1323.5 2337.9,1309.3"/></g>
<polyline points="412.0,1380.9 444.3,1382.5 476.6,1384.2 509.0,1385.8 541.3,1386.8 573.6,1388.1 606.0,1389.4 638.3,1391.3 670.6,1393.0 702.9,1393.9 735.2,1395.0 767.6,1395.6 799.9,1396.9 832.2,1398.2 864.5,1398.9 896.9,1399.9 929.2,1400.5 961.5,1401.5 993.9,1402.1 1026.2,1403.2 1058.5,1404.2 1090.8,1405.0 1123.2,1405.8 1155.5,1406.5 1187.8,1407.1 1220.1,1407.7 1252.4,1408.3 1284.8,1408.9 1317.1,1409.4 1349.4,1409.9 1381.8,1410.3 1414.1,1410.8 1446.4,1411.3 1478.7,1411.7 1511.0,1412.2 1543.4,1412.6 1575.7,1413.0 1608.0,1413.5 1640.3,1413.9 1672.7,1414.2 1705.0,1414.6 1737.3,1414.9 1769.6,1415.2 1802.0,1415.4 1834.3,1415.7 1866.6,1415.9 1899.0,1416.2 1931.3,1416.5 1963.6,1416.9 1995.9,1417.2 2028.2,1417.5 2060.6,1417.8 2092.9,1418.2 2125.2,1418.5 2157.6,1418.8 2189.9,1419.2 2222.2,1419.5 2254.5,1419.8 2286.8,1420.2 2319.2,1420.5 2351.5,1420.8" fill="none" stroke="#000088" stroke-width="3"/>
<g fill="#ff00ff"><polygon points="396.6,1380.9 419.8,1368.0 419.8,1393.8"/><polygon points="428.9,1382.5 452.1,1369.6 452.1,1395.4"/><polygon points="461.2,1384.2 484.4,1371.3 484.4,1397.1"/><polygon points="493.6,1385.8 516.8,1372.9 516.8,1398.7"/><polygon points="525.9,1386.8 549.1,1373.9 549.1,1399.7"/><polygon points="558.2,1388.1 581.4,1375.2 581.4,1401.0"/><polygon points="590.6,1389.4 613.8,1376.5 613.8,1402.3"/><polygon points="622.9,1391.3 646.1,1378.4 646.1,1404.2"/><polygon points="655.2,1393.0 678.4,1380.1 678.4,1405.9"/><polygon points="687.5,1393.9 710.7,1381.0 710.7,1406.8"/><polygon points="719.9,1395.0 743.0,1382.1 743.0,1407.9"/><polygon points="752.2,1395.6 775.4,1382.7 775.4,1408.5"/><polygon points="784.5,1396.9 807.7,1384.0 807.7,1409.8"/><polygon points="816.8,1398.2 840.0,1385.3 840.0,1411.1"/><polygon points="849.1,1398.9 872.3,1386.0 872.3,1411.8"/><polygon points="881.5,1399.9 904.7,1387.0 904.7,1412.8"/><polygon points="913.8,1400.5 937.0,1387.6 937.0,1413.4"/><polygon points="946.1,1401.5 969.3,1388.6 969.3,1414.4"/><polygon points="978.5,1402.1 1001.6,1389.2 1001.6,1415.0"/><polygon points="1010.8,1403.2 1034.0,1390.3 1034.0,1416.1"/><polygon points="1043.1,1404.2 1066.3,1391.3 1066.3,1417.1"/><polygon points="1075.4,1405.0 1098.6,1392.1 1098.6,1417.9"/><polygon points="1107.8,1405.8 1131.0,1392.9 1131.0,1418.7"/><polygon points="1140.1,1406.5 1163.3,1393.6 1163.3,1419.4"/><polygon points="1172.4,1407.1 1195.6,1394.2 1195.6,1420.0"/><polygon points="1204.7,1407.7 1227.9,1394.8 1227.9,1420.6"/><polygon points="1237.0,1408.3 1260.2,1395.4 1260.2,1421.2"/><polygon points="1269.4,1408.9 1292.6,1396.0 1292.6,1421.8"/><polygon points="1301.7,1409.4 1324.9,1396.5 1324.9,1422.3"/><polygon points="1334.0,1409.9 1357.2,1397.0 1357.2,1422.8"/><polygon points="1366.3,1410.3 1389.5,1397.4 1389.5,1423.2"/><polygon points="1398.7,1410.8 1421.9,1397.9 1421.9,1423.7"/><polygon points="1431.0,1411.3 1454.2,1398.4 1454.2,1424.2"/><polygon points="1463.3,1411.7 1486.5,1398.8 1486.5,1424.6"/><polygon points="1495.6,1412.2 1518.8,1399.3 1518.8,1425.1"/><polygon points="1528.0,1412.6 1551.2,1399.7 1551.2,1425.5"/><polygon points="1560.3,1413.0 1583.5,1400.1 1583.5,1425.9"/><polygon points="1592.6,1413.5 1615.8,1400.6 1615.8,1426.4"/><polygon points="1624.9,1413.9 1648.1,1401.0 1648.1,1426.8"/><polygon points="1657.3,1414.2 1680.5,1401.3 1680.5,1427.1"/><polygon points="1689.6,1414.6 1712.8,1401.7 1712.8,1427.5"/><polygon points="1721.9,1414.9 1745.1,1402.0 1745.1,1427.8"/><polygon points="1754.2,1415.2 1777.4,1402.3 1777.4,1428.1"/><polygon points="1786.6,1415.4 1809.8,1402.5 1809.8,1428.3"/><polygon points="1818.9,1415.7 1842.1,1402.8 1842.1,1428.6"/><polygon points="1851.2,1415.9 1874.4,1403.0 1874.4,1428.8"/><polygon points="1883.5,1416.2 1906.8,1403.3 1906.8,1429.1"/><polygon points="1915.9,1416.5 1939.1,1403.6 1939.1,1429.4"/><polygon points="1948.2,1416.9 1971.4,1404.0 1971.4,1429.8"/><polygon points="1980.5,1417.2 2003.7,1404.3 2003.7,1430.1"/><polygon points="2012.8,1417.5 2036.0,1404.6 2036.0,1430.4"/><polygon points="2045.2,1417.8 2068.4,1404.9 2068.4,1430.7"/><polygon points="2077.5,1418.2 2100.7,1405.3 2100.7,1431.1"/><polygon points="2109.8,1418.5 2133.0,1405.6 2133.0,1431.4"/><polygon points="2142.2,1418.8 2165.4,1405.9 2165.4,1431.7"/><polygon points="2174.5,1419.2 2197.7,1406.3 2197.7,1432.1"/><polygon points="2206.8,1419.5 2230.0,1406.6 2230.0,1432.4"/><polygon points="2239.1,1419.8 2262.3,1406.9 2262.3,1432.7"/><polygon points="2271.4,1420.2 2294.7,1407.3 2294.7,1433.1"/><polygon points="2303.8,1420.5 2327.0,1407.6 2327.0,1433.4"/><polygon points="2336.1,1420.8 2359.3,1407.9 2359.3,1433.7"/></g>
<polyline points="412.0,979.7 444.3,1006.5 476.6,1032.6 509.0,1055.4 541.3,1077.0 573.6,1098.2 606.0,1117.8 638.3,1136.8 670.6,1153.3 702.9,1168.8 735.2,1186.0 767.6,1197.8 799.9,1210.8 832.2,1223.9 864.5,1235.8 896.9,1246.4 929.2,1256.5 961.5,1265.9 993.9,1274.5 1026.2,1283.8 1058.5,1292.7 1090.8,1300.9 1123.2,1308.1 1155.5,1314.9 1187.8,1322.8 1220.1,1328.7 1252.4,1335.2 1284.8,1341.1 1317.1,1346.6 1349.4,1352.5 1381.8,1358.0 1414.1,1364.0 1446.4,1369.5 1478.7,1375.1 1511.0,1379.9 1543.4,1385.2 1575.7,1390.7 1608.0,1395.6 1640.3,1399.5 1672.7,1403.8 1705.0,1408.1 1737.3,1412.6 1769.6,1417.8 1802.0,1422.4 1834.3,1426.6 1866.6,1430.9 1899.0,1436.5 1931.3,1440.4 1963.6,1444.6 1995.9,1449.5 2028.2,1453.4 2060.6,1459.3 2092.9,1462.6 2125.2,1466.5 2157.6,1469.1 2189.9,1471.4 2222.2,1473.9 2254.5,1476.6 2286.8,1479.7 2319.2,1482.1 2351.5,1484.5" fill="none" stroke="#9000ff" stroke-width="3"/>
<g fill="#ffff00"><polygon points="427.4,979.7 404.2,966.8 404.2,992.6"/><polygon points="459.7,1006.5 436.5,993.6 436.5,1019.4"/><polygon points="492.0,1032.6 468.8,1019.7 468.8,1045.5"/><polygon points="524.4,1055.4 501.2,1042.5 501.2,1068.3"/><polygon points="556.7,1077.0 533.5,1064.1 533.5,1089.9"/><polygon points="589.0,1098.2 565.8,1085.3 565.8,1111.1"/><polygon points="621.4,1117.8 598.2,1104.9 598.2,1130.7"/><polygon points="653.7,1136.8 630.5,1123.9 630.5,1149.7"/><polygon points="686.0,1153.3 662.8,1140.4 662.8,1166.2"/><polygon points="718.3,1168.8 695.1,1155.9 695.1,1181.7"/><polygon points="750.6,1186.0 727.5,1173.1 727.5,1198.9"/><polygon points="783.0,1197.8 759.8,1184.9 759.8,1210.7"/><polygon points="815.3,1210.8 792.1,1197.9 792.1,1223.7"/><polygon points="847.6,1223.9 824.4,1211.0 824.4,1236.8"/><polygon points="879.9,1235.8 856.8,1222.9 856.8,1248.7"/><polygon points="912.3,1246.4 889.1,1233.5 889.1,1259.3"/><polygon points="944.6,1256.5 921.4,1243.6 921.4,1269.4"/><polygon points="976.9,1265.9 953.7,1253.0 953.7,1278.8"/><polygon points="1009.2,1274.5 986.1,1261.6 986.1,1287.4"/><polygon points="1041.6,1283.8 1018.4,1270.9 1018.4,1296.7"/><polygon points="1073.9,1292.7 1050.7,1279.8 1050.7,1305.6"/><polygon points="1106.2,1300.9 1083.0,1288.0 1083.0,1313.8"/><polygon points="1138.6,1308.1 1115.4,1295.2 1115.4,1321.0"/><polygon points="1170.9,1314.9 1147.7,1302.0 1147.7,1327.8"/><polygon points="1203.2,1322.8 1180.0,1309.9 1180.0,1335.7"/><polygon points="1235.5,1328.7 1212.3,1315.8 1212.3,1341.6"/><polygon points="1267.8,1335.2 1244.6,1322.3 1244.6,1348.1"/><polygon points="1300.2,1341.1 1277.0,1328.2 1277.0,1354.0"/><polygon points="1332.5,1346.6 1309.3,1333.7 1309.3,1359.5"/><polygon points="1364.8,1352.5 1341.6,1339.6 1341.6,1365.4"/><polygon points="1397.2,1358.0 1374.0,1345.1 1374.0,1370.9"/><polygon points="1429.5,1364.0 1406.3,1351.1 1406.3,1376.9"/><polygon points="1461.8,1369.5 1438.6,1356.6 1438.6,1382.4"/><polygon points="1494.1,1375.1 1470.9,1362.2 1470.9,1388.0"/><polygon points="1526.5,1379.9 1503.2,1367.0 1503.2,1392.8"/><polygon points="1558.8,1385.2 1535.6,1372.3 1535.6,1398.1"/><polygon points="1591.1,1390.7 1567.9,1377.8 1567.9,1403.6"/><polygon points="1623.4,1395.6 1600.2,1382.7 1600.2,1408.5"/><polygon points="1655.8,1399.5 1632.5,1386.6 1632.5,1412.4"/><polygon points="1688.1,1403.8 1664.9,1390.9 1664.9,1416.7"/><polygon points="1720.4,1408.1 1697.2,1395.2 1697.2,1421.0"/><polygon points="1752.7,1412.6 1729.5,1399.7 1729.5,1425.5"/><polygon points="1785.0,1417.8 1761.8,1404.9 1761.8,1430.7"/><polygon points="1817.4,1422.4 1794.2,1409.5 1794.2,1435.3"/><polygon points="1849.7,1426.6 1826.5,1413.7 1826.5,1439.5"/><polygon points="1882.0,1430.9 1858.8,1418.0 1858.8,1443.8"/><polygon points="1914.4,1436.5 1891.2,1423.6 1891.2,1449.4"/><polygon points="1946.7,1440.4 1923.5,1427.5 1923.5,1453.3"/><polygon points="1979.0,1444.6 1955.8,1431.7 1955.8,1457.5"/><polygon points="2011.3,1449.5 1988.1,1436.6 1988.1,1462.4"/><polygon points="2043.7,1453.4 2020.5,1440.5 2020.5,1466.3"/><polygon points="2076.0,1459.3 2052.8,1446.4 2052.8,1472.2"/><polygon points="2108.3,1462.6 2085.1,1449.7 2085.1,1475.5"/><polygon points="2140.6,1466.5 2117.4,1453.6 2117.4,1479.4"/><polygon points="2173.0,1469.1 2149.8,1456.2 2149.8,1482.0"/><polygon points="2205.3,1471.4 2182.1,1458.5 2182.1,1484.3"/><polygon points="2237.6,1473.9 2214.4,1461.0 2214.4,1486.8"/><polygon points="2269.9,1476.6 2246.7,1463.7 2246.7,1489.5"/><polygon points="2302.2,1479.7 2279.0,1466.8 2279.0,1492.6"/><polygon points="2334.6,1482.1 2311.4,1469.2 2311.4,1495.0"/><polygon points="2366.9,1484.5 2343.7,1471.6 2343.7,1497.4"/></g>
<polyline points="412.0,1528.9 444.3,1530.3 476.6,1531.6 509.0,1532.9 541.3,1534.2 573.6,1535.5 606.0,1536.8 638.3,1538.3 670.6,1539.7 702.9,1540.9 735.2,1542.0 767.6,1542.9 799.9,1543.7 832.2,1544.5 864.5,1545.2 896.9,1545.9 929.2,1546.5 961.5,1547.2 993.9,1547.8 1026.2,1548.4 1058.5,1548.9 1090.8,1549.3 1123.2,1549.8 1155.5,1550.2 1187.8,1550.5 1220.1,1550.8 1252.4,1551.1 1284.8,1551.2 1317.1,1551.4 1349.4,1551.6 1381.8,1551.8 1414.1,1552.0 1446.4,1552.3 1478.7,1552.6 1511.0,1552.9 1543.4,1553.1 1575.7,1553.3 1608.0,1553.5 1640.3,1553.7 1672.7,1553.9 1705.0,1554.1 1737.3,1554.3 1769.6,1554.5 1802.0,1554.7 1834.3,1555.0 1866.6,1555.2 1899.0,1555.5 1931.3,1555.7 1963.6,1555.9 1995.9,1556.1 2028.2,1556.3 2060.6,1556.5 2092.9,1556.7 2125.2,1556.9 2157.6,1557.1 2189.9,1557.2 2222.2,1557.4 2254.5,1557.6 2286.8,1557.7 2319.2,1557.9 2351.5,1558.0" fill="none" stroke="#960085" stroke-width="3"/>
<g fill="#808000"><polygon points="412.0,1516.9 423.0,1522.9 423.0,1534.9 412.0,1540.9 401.0,1534.9 401.0,1522.9"/><polygon points="444.3,1518.3 455.3,1524.3 455.3,1536.3 444.3,1542.3 433.3,1536.3 433.3,1524.3"/><polygon points="476.6,1519.6 487.6,1525.6 487.6,1537.6 476.6,1543.6 465.6,1537.6 465.6,1525.6"/><polygon points="509.0,1520.9 520.0,1526.9 520.0,1538.9 509.0,1544.9 498.0,1538.9 498.0,1526.9"/><polygon points="541.3,1522.2 552.3,1528.2 552.3,1540.2 541.3,1546.2 530.3,1540.2 530.3,1528.2"/><polygon points="573.6,1523.5 584.6,1529.5 584.6,1541.5 573.6,1547.5 562.6,1541.5 562.6,1529.5"/><polygon points="606.0,1524.8 617.0,1530.8 617.0,1542.8 606.0,1548.8 595.0,1542.8 595.0,1530.8"/><polygon points="638.3,1526.3 649.3,1532.3 649.3,1544.3 638.3,1550.3 627.3,1544.3 627.3,1532.3"/><polygon points="670.6,1527.7 681.6,1533.7 681.6,1545.7 670.6,1551.7 659.6,1545.7 659.6,1533.7"/><polygon points="702.9,1528.9 713.9,1534.9 713.9,1546.9 702.9,1552.9 691.9,1546.9 691.9,1534.9"/><polygon points="735.2,1530.0 746.2,1536.0 746.2,1548.0 735.2,1554.0 724.2,1548.0 724.2,1536.0"/><polygon points="767.6,1530.9 778.6,1536.9 778.6,1548.9 767.6,1554.9 756.6,1548.9 756.6,1536.9"/><polygon points="799.9,1531.7 810.9,1537.7 810.9,1549.7 799.9,1555.7 788.9,1549.7 788.9,1537.7"/><polygon points="832.2,1532.5 843.2,1538.5 843.2,1550.5 832.2,1556.5 821.2,1550.5 821.2,1538.5"/><polygon points="864.5,1533.2 875.5,1539.2 875.5,1551.2 864.5,1557.2 853.5,1551.2 853.5,1539.2"/><polygon points="896.9,1533.9 907.9,1539.9 907.9,1551.9 896.9,1557.9 885.9,1551.9 885.9,1539.9"/><polygon points="929.2,1534.5 940.2,1540.5 940.2,1552.5 929.2,1558.5 918.2,1552.5 918.2,1540.5"/><polygon points="961.5,1535.2 972.5,1541.2 972.5,1553.2 961.5,1559.2 950.5,1553.2 950.5,1541.2"/><polygon points="993.9,1535.8 1004.9,1541.8 1004.9,1553.8 993.9,1559.8 982.9,1553.8 982.9,1541.8"/><polygon points="1026.2,1536.4 1037.2,1542.4 1037.2,1554.4 1026.2,1560.4 1015.2,1554.4 1015.2,1542.4"/><polygon points="1058.5,1536.9 1069.5,1542.9 1069.5,1554.9 1058.5,1560.9 1047.5,1554.9 1047.5,1542.9"/><polygon points="1090.8,1537.3 1101.8,1543.3 1101.8,1555.3 1090.8,1561.3 1079.8,1555.3 1079.8,1543.3"/><polygon points="1123.2,1537.8 1134.2,1543.8 1134.2,1555.8 1123.2,1561.8 1112.2,1555.8 1112.2,1543.8"/><polygon points="1155.5,1538.2 1166.5,1544.2 1166.5,1556.2 1155.5,1562.2 1144.5,1556.2 1144.5,1544.2"/><polygon points="1187.8,1538.5 1198.8,1544.5 1198.8,1556.5 1187.8,1562.5 1176.8,1556.5 1176.8,1544.5"/><polygon points="1220.1,1538.8 1231.1,1544.8 1231.1,1556.8 1220.1,1562.8 1209.1,1556.8 1209.1,1544.8"/><polygon points="1252.4,1539.1 1263.4,1545.1 1263.4,1557.1 1252.4,1563.1 1241.4,1557.1 1241.4,1545.1"/><polygon points="1284.8,1539.2 1295.8,1545.2 1295.8,1557.2 1284.8,1563.2 1273.8,1557.2 1273.8,1545.2"/><polygon points="1317.1,1539.4 1328.1,1545.4 1328.1,1557.4 1317.1,1563.4 1306.1,1557.4 1306.1,1545.4"/><polygon points="1349.4,1539.6 1360.4,1545.6 1360.4,1557.6 1349.4,1563.6 1338.4,1557.6 1338.4,1545.6"/><polygon points="1381.8,1539.8 1392.8,1545.8 1392.8,1557.8 1381.8,1563.8 1370.8,1557.8 1370.8,1545.8"/><polygon points="1414.1,1540.0 1425.1,1546.0 1425.1,1558.0 1414.1,1564.0 1403.1,1558.0 1403.1,1546.0"/><polygon points="1446.4,1540.3 1457.4,1546.3 1457.4,1558.3 1446.4,1564.3 1435.4,1558.3 1435.4,1546.3"/><polygon points="1478.7,1540.6 1489.7,1546.6 1489.7,1558.6 1478.7,1564.6 1467.7,1558.6 1467.7,1546.6"/><polygon points="1511.0,1540.9 1522.0,1546.9 1522.0,1558.9 1511.0,1564.9 1500.0,1558.9 1500.0,1546.9"/><polygon points="1543.4,1541.1 1554.4,1547.1 1554.4,1559.1 1543.4,1565.1 1532.4,1559.1 1532.4,1547.1"/><polygon points="1575.7,1541.3 1586.7,1547.3 1586.7,1559.3 1575.7,1565.3 1564.7,1559.3 1564.7,1547.3"/><polygon points="1608.0,1541.5 1619.0,1547.5 1619.0,1559.5 1608.0,1565.5 1597.0,1559.5 1597.0,1547.5"/><polygon points="1640.3,1541.7 1651.3,1547.7 1651.3,1559.7 1640.3,1565.7 1629.3,1559.7 1629.3,1547.7"/><polygon points="1672.7,1541.9 1683.7,1547.9 1683.7,1559.9 1672.7,1565.9 1661.7,1559.9 1661.7,1547.9"/><polygon points="1705.0,1542.1 1716.0,1548.1 1716.0,1560.1 1705.0,1566.1 1694.0,1560.1 1694.0,1548.1"/><polygon points="1737.3,1542.3 1748.3,1548.3 1748.3,1560.3 1737.3,1566.3 1726.3,1560.3 1726.3,1548.3"/><polygon points="1769.6,1542.5 1780.6,1548.5 1780.6,1560.5 1769.6,1566.5 1758.6,1560.5 1758.6,1548.5"/><polygon points="1802.0,1542.7 1813.0,1548.7 1813.0,1560.7 1802.0,1566.7 1791.0,1560.7 1791.0,1548.7"/><polygon points="1834.3,1543.0 1845.3,1549.0 1845.3,1561.0 1834.3,1567.0 1823.3,1561.0 1823.3,1549.0"/><polygon points="1866.6,1543.2 1877.6,1549.2 1877.6,1561.2 1866.6,1567.2 1855.6,1561.2 1855.6,1549.2"/><polygon points="1899.0,1543.5 1910.0,1549.5 1910.0,1561.5 1899.0,1567.5 1888.0,1561.5 1888.0,1549.5"/><polygon points="1931.3,1543.7 1942.3,1549.7 1942.3,1561.7 1931.3,1567.7 1920.3,1561.7 1920.3,1549.7"/><polygon points="1963.6,1543.9 1974.6,1549.9 1974.6,1561.9 1963.6,1567.9 1952.6,1561.9 1952.6,1549.9"/><polygon points="1995.9,1544.1 2006.9,1550.1 2006.9,1562.1 1995.9,1568.1 1984.9,1562.1 1984.9,1550.1"/><polygon points="2028.2,1544.3 2039.2,1550.3 2039.2,1562.3 2028.2,1568.3 2017.2,1562.3 2017.2,1550.3"/><polygon points="2060.6,1544.5 2071.6,1550.5 2071.6,1562.5 2060.6,1568.5 2049.6,1562.5 2049.6,1550.5"/><polygon points="2092.9,1544.7 2103.9,1550.7 2103.9,1562.7 2092.9,1568.7 2081.9,1562.7 2081.9,1550.7"/><polygon points="2125.2,1544.9 2136.2,1550.9 2136.2,1562.9 2125.2,1568.9 2114.2,1562.9 2114.2,1550.9"/><polygon points="2157.6,1545.1 2168.6,1551.1 2168.6,1563.1 2157.6,1569.1 2146.6,1563.1 2146.6,1551.1"/><polygon points="2189.9,1545.2 2200.9,1551.2 2200.9,1563.2 2189.9,1569.2 2178.9,1563.2 2178.9,1551.2"/><polygon points="2222.2,1545.4 2233.2,1551.4 2233.2,1563.4 2222.2,1569.4 2211.2,1563.4 2211.2,1551.4"/><polygon points="2254.5,1545.6 2265.5,1551.6 2265.5,1563.6 2254.5,1569.6 2243.5,1563.6 2243.5,1551.6"/><polygon points="2286.8,1545.7 2297.8,1551.7 2297.8,1563.7 2286.8,1569.7 2275.8,1563.7 2275.8,1551.7"/><polygon points="2319.2,1545.9 2330.2,1551.9 2330.2,1563.9 2319.2,1569.9 2308.2,1563.9 2308.2,1551.9"/><polygon points="2351.5,1546.0 2362.5,1552.0 2362.5,1564.0 2351.5,1570.0 2340.5,1564.0 2340.5,1552.0"/></g>
<polyline points="412.0,925.1 444.3,939.8 476.6,954.2 509.0,967.2 541.3,979.7 573.6,992.0 606.0,1005.1 638.3,1016.2 670.6,1027.0 702.9,1038.4 735.2,1048.9 767.6,1058.0 799.9,1067.9 832.2,1076.7 864.5,1084.8 896.9,1093.3 929.2,1101.2 961.5,1107.7 993.9,1114.2 1026.2,1121.8 1058.5,1127.9 1090.8,1134.7 1123.2,1141.3 1155.5,1147.1 1187.8,1152.1 1220.1,1156.2 1252.4,1161.8 1284.8,1166.7 1317.1,1170.9 1349.4,1175.5 1381.8,1179.8 1414.1,1184.0 1446.4,1188.6 1478.7,1192.8 1511.0,1197.1 1543.4,1201.0 1575.7,1204.2 1608.0,1207.6 1640.3,1210.8 1672.7,1214.7 1705.0,1219.0 1737.3,1223.1 1769.6,1226.5 1802.0,1229.8 1834.3,1232.4 1866.6,1235.7 1899.0,1238.9 1931.3,1241.5 1963.6,1244.5 1995.9,1247.1 2028.2,1249.7 2060.6,1252.0 2092.9,1254.3 2125.2,1256.9 2157.6,1259.5 2189.9,1261.8 2222.2,1263.4 2254.5,1265.7 2286.8,1267.7 2319.2,1269.9 2351.5,1271.6" fill="none" stroke="#808000" stroke-width="3"/>
<g fill="#960085"><polygon points="412.0,914.1 424.6,922.8 420.4,936.1 403.6,936.1 399.4,922.8"/><polygon points="444.3,928.8 456.9,937.5 452.8,950.8 435.9,950.8 431.8,937.5"/><polygon points="476.6,943.2 489.2,951.9 485.1,965.2 468.2,965.2 464.1,951.9"/><polygon points="509.0,956.2 521.5,964.9 517.4,978.2 500.5,978.2 496.4,964.9"/><polygon points="541.3,968.7 553.8,977.4 549.8,990.7 532.8,990.7 528.8,977.4"/><polygon points="573.6,981.0 586.2,989.7 582.1,1003.0 565.2,1003.0 561.1,989.7"/><polygon points="606.0,994.1 618.5,1002.8 614.4,1016.1 597.5,1016.1 593.4,1002.8"/><polygon points="638.3,1005.2 650.8,1013.9 646.7,1027.2 629.8,1027.2 625.7,1013.9"/><polygon points="670.6,1016.0 683.1,1024.7 679.1,1038.0 662.1,1038.0 658.1,1024.7"/><polygon points="702.9,1027.4 715.5,1036.1 711.4,1049.4 694.5,1049.4 690.4,1036.1"/><polygon points="735.2,1037.9 747.8,1046.6 743.7,1059.9 726.8,1059.9 722.7,1046.6"/><polygon points="767.6,1047.0 780.1,1055.7 776.0,1069.0 759.1,1069.0 755.0,1055.7"/><polygon points="799.9,1056.9 812.4,1065.6 808.4,1078.9 791.4,1078.9 787.4,1065.6"/><polygon points="832.2,1065.7 844.8,1074.4 840.7,1087.7 823.8,1087.7 819.7,1074.4"/><polygon points="864.5,1073.8 877.1,1082.5 873.0,1095.8 856.1,1095.8 852.0,1082.5"/><polygon points="896.9,1082.3 909.4,1091.0 905.3,1104.3 888.4,1104.3 884.3,1091.0"/><polygon points="929.2,1090.2 941.8,1098.9 937.7,1112.2 920.8,1112.2 916.7,1098.9"/><polygon points="961.5,1096.7 974.1,1105.4 970.0,1118.7 953.1,1118.7 949.0,1105.4"/><polygon points="993.9,1103.2 1006.4,1111.9 1002.3,1125.2 985.4,1125.2 981.3,1111.9"/><polygon points="1026.2,1110.8 1038.7,1119.5 1034.6,1132.8 1017.7,1132.8 1013.6,1119.5"/><polygon points="1058.5,1116.9 1071.0,1125.6 1067.0,1138.9 1050.0,1138.9 1046.0,1125.6"/><polygon points="1090.8,1123.7 1103.4,1132.4 1099.3,1145.7 1082.4,1145.7 1078.3,1132.4"/><polygon points="1123.2,1130.3 1135.7,1139.0 1131.6,1152.3 1114.7,1152.3 1110.6,1139.0"/><polygon points="1155.5,1136.1 1168.0,1144.8 1163.9,1158.1 1147.0,1158.1 1142.9,1144.8"/><polygon points="1187.8,1141.1 1200.3,1149.8 1196.2,1163.1 1179.3,1163.1 1175.2,1149.8"/><polygon points="1220.1,1145.2 1232.7,1153.9 1228.6,1167.2 1211.7,1167.2 1207.6,1153.9"/><polygon points="1252.4,1150.8 1265.0,1159.5 1260.9,1172.8 1244.0,1172.8 1239.9,1159.5"/><polygon points="1284.8,1155.7 1297.3,1164.4 1293.2,1177.7 1276.3,1177.7 1272.2,1164.4"/><polygon points="1317.1,1159.9 1329.6,1168.6 1325.5,1181.9 1308.6,1181.9 1304.5,1168.6"/><polygon points="1349.4,1164.5 1362.0,1173.2 1357.9,1186.5 1341.0,1186.5 1336.9,1173.2"/><polygon points="1381.8,1168.8 1394.3,1177.5 1390.2,1190.8 1373.3,1190.8 1369.2,1177.5"/><polygon points="1414.1,1173.0 1426.6,1181.7 1422.5,1195.0 1405.6,1195.0 1401.5,1181.7"/><polygon points="1446.4,1177.6 1459.0,1186.3 1454.9,1199.6 1438.0,1199.6 1433.9,1186.3"/><polygon points="1478.7,1181.8 1491.3,1190.5 1487.2,1203.8 1470.3,1203.8 1466.2,1190.5"/><polygon points="1511.0,1186.1 1523.6,1194.8 1519.5,1208.1 1502.6,1208.1 1498.5,1194.8"/><polygon points="1543.4,1190.0 1555.9,1198.7 1551.8,1212.0 1534.9,1212.0 1530.8,1198.7"/><polygon points="1575.7,1193.2 1588.2,1201.9 1584.2,1215.2 1567.2,1215.2 1563.2,1201.9"/><polygon points="1608.0,1196.6 1620.6,1205.3 1616.5,1218.6 1599.6,1218.6 1595.5,1205.3"/><polygon points="1640.3,1199.8 1652.9,1208.5 1648.8,1221.8 1631.9,1221.8 1627.8,1208.5"/><polygon points="1672.7,1203.7 1685.2,1212.4 1681.1,1225.7 1664.2,1225.7 1660.1,1212.4"/><polygon points="1705.0,1208.0 1717.5,1216.7 1713.5,1230.0 1696.5,1230.0 1692.5,1216.7"/><polygon points="1737.3,1212.1 1749.9,1220.8 1745.8,1234.1 1728.9,1234.1 1724.8,1220.8"/><polygon points="1769.6,1215.5 1782.2,1224.2 1778.1,1237.5 1761.2,1237.5 1757.1,1224.2"/><polygon points="1802.0,1218.8 1814.5,1227.5 1810.4,1240.8 1793.5,1240.8 1789.4,1227.5"/><polygon points="1834.3,1221.4 1846.8,1230.1 1842.8,1243.4 1825.8,1243.4 1821.8,1230.1"/><polygon points="1866.6,1224.7 1879.2,1233.4 1875.1,1246.7 1858.2,1246.7 1854.1,1233.4"/><polygon points="1899.0,1227.9 1911.5,1236.6 1907.4,1249.9 1890.5,1249.9 1886.4,1236.6"/><polygon points="1931.3,1230.5 1943.8,1239.2 1939.7,1252.5 1922.8,1252.5 1918.7,1239.2"/><polygon points="1963.6,1233.5 1976.1,1242.2 1972.0,1255.5 1955.1,1255.5 1951.0,1242.2"/><polygon points="1995.9,1236.1 2008.5,1244.8 2004.4,1258.1 1987.5,1258.1 1983.4,1244.8"/><polygon points="2028.2,1238.7 2040.8,1247.4 2036.7,1260.7 2019.8,1260.7 2015.7,1247.4"/><polygon points="2060.6,1241.0 2073.1,1249.7 2069.0,1263.0 2052.1,1263.0 2048.0,1249.7"/><polygon points="2092.9,1243.3 2105.4,1252.0 2101.3,1265.3 2084.4,1265.3 2080.3,1252.0"/><polygon points="2125.2,1245.9 2137.8,1254.6 2133.7,1267.9 2116.8,1267.9 2112.7,1254.6"/><polygon points="2157.6,1248.5 2170.1,1257.2 2166.0,1270.5 2149.1,1270.5 2145.0,1257.2"/><polygon points="2189.9,1250.8 2202.4,1259.5 2198.3,1272.8 2181.4,1272.8 2177.3,1259.5"/><polygon points="2222.2,1252.4 2234.8,1261.1 2230.6,1274.4 2213.8,1274.4 2209.6,1261.1"/><polygon points="2254.5,1254.7 2267.1,1263.4 2263.0,1276.7 2246.1,1276.7 2242.0,1263.4"/><polygon points="2286.8,1256.7 2299.4,1265.4 2295.3,1278.7 2278.4,1278.7 2274.3,1265.4"/><polygon points="2319.2,1258.9 2331.7,1267.6 2327.6,1280.9 2310.7,1280.9 2306.6,1267.6"/><polygon points="2351.5,1260.6 2364.1,1269.3 2359.9,1282.6 2343.1,1282.6 2338.9,1269.3"/></g>
<polyline points="412.0,1461.2 444.3,1461.9 476.6,1462.7 509.0,1463.4 541.3,1464.3 573.6,1465.1 606.0,1466.1 638.3,1467.1 670.6,1468.1 702.9,1469.1 735.2,1470.0 767.6,1470.7 799.9,1471.4 832.2,1472.0 864.5,1472.7 896.9,1473.3 929.2,1474.1 961.5,1474.9 993.9,1475.7 1026.2,1476.5 1058.5,1477.1 1090.8,1477.5 1123.2,1477.8 1155.5,1478.2 1187.8,1478.5 1220.1,1478.8 1252.4,1479.2 1284.8,1479.6 1317.1,1480.1 1349.4,1480.4 1381.8,1480.8 1414.1,1481.1 1446.4,1481.4 1478.7,1481.6 1511.0,1481.9 1543.4,1482.1 1575.7,1482.4 1608.0,1482.8 1640.3,1483.1 1672.7,1483.4 1705.0,1483.7 1737.3,1484.0 1769.6,1484.3 1802.0,1484.6 1834.3,1484.8 1866.6,1485.1 1899.0,1485.4 1931.3,1485.6 1963.6,1485.9 1995.9,1486.2 2028.2,1486.4 2060.6,1486.6 2092.9,1486.9 2125.2,1487.1 2157.6,1487.4 2189.9,1487.6 2222.2,1487.8 2254.5,1488.0 2286.8,1488.3 2319.2,1488.5 2351.5,1488.7" fill="none" stroke="#980000" stroke-width="3"/>
<g fill="#000088"><polygon points="412.0,1448.3 415.4,1456.5 424.3,1457.2 417.5,1463.0 420.0,1472.2 412.0,1467.0 404.0,1472.2 406.5,1463.0 399.7,1457.2 408.6,1456.5"/><polygon points="444.3,1449.0 447.7,1457.2 456.6,1457.9 449.8,1463.7 452.3,1472.9 444.3,1467.7 436.3,1472.9 438.8,1463.7 432.1,1457.9 440.9,1457.2"/><polygon points="476.6,1449.8 480.1,1458.0 488.9,1458.7 482.2,1464.4 484.6,1473.7 476.6,1468.5 468.7,1473.7 471.1,1464.4 464.4,1458.7 473.2,1458.0"/><polygon points="509.0,1450.5 512.4,1458.8 521.2,1459.5 514.5,1465.2 517.0,1474.4 509.0,1469.2 501.0,1474.4 503.5,1465.2 496.7,1459.5 505.6,1458.8"/><polygon points="541.3,1451.4 544.7,1459.6 553.6,1460.3 546.8,1466.1 549.3,1475.3 541.3,1470.1 533.3,1475.3 535.8,1466.1 529.0,1460.3 537.9,1459.6"/><polygon points="573.6,1452.2 577.0,1460.4 585.9,1461.1 579.1,1466.9 581.6,1476.1 573.6,1470.9 565.6,1476.1 568.1,1466.9 561.4,1461.1 570.2,1460.4"/><polygon points="606.0,1453.2 609.4,1461.4 618.2,1462.1 611.5,1467.9 613.9,1477.1 606.0,1471.9 598.0,1477.1 600.4,1467.9 593.7,1462.1 602.5,1461.4"/><polygon points="638.3,1454.2 641.7,1462.4 650.5,1463.1 643.8,1468.9 646.3,1478.1 638.3,1472.9 630.3,1478.1 632.8,1468.9 626.0,1463.1 634.9,1462.4"/><polygon points="670.6,1455.2 674.0,1463.4 682.9,1464.2 676.1,1469.9 678.6,1479.1 670.6,1473.9 662.6,1479.1 665.1,1469.9 658.3,1464.2 667.2,1463.4"/><polygon points="702.9,1456.2 706.3,1464.4 715.2,1465.1 708.4,1470.9 710.9,1480.1 702.9,1474.9 694.9,1480.1 697.4,1470.9 690.7,1465.1 699.5,1464.4"/><polygon points="735.2,1457.1 738.7,1465.3 747.5,1466.0 740.8,1471.8 743.2,1481.0 735.2,1475.8 727.3,1481.0 729.7,1471.8 723.0,1466.0 731.8,1465.3"/><polygon points="767.6,1457.8 771.0,1466.1 779.8,1466.8 773.1,1472.5 775.6,1481.7 767.6,1476.5 759.6,1481.7 762.1,1472.5 755.3,1466.8 764.2,1466.1"/><polygon points="799.9,1458.5 803.3,1466.7 812.2,1467.4 805.4,1473.2 807.9,1482.4 799.9,1477.2 791.9,1482.4 794.4,1473.2 787.6,1467.4 796.5,1466.7"/><polygon points="832.2,1459.1 835.6,1467.3 844.5,1468.0 837.7,1473.8 840.2,1483.0 832.2,1477.8 824.2,1483.0 826.7,1473.8 820.0,1468.0 828.8,1467.3"/><polygon points="864.5,1459.8 868.0,1468.0 876.8,1468.7 870.1,1474.4 872.5,1483.7 864.5,1478.5 856.6,1483.7 859.0,1474.4 852.3,1468.7 861.1,1468.0"/><polygon points="896.9,1460.4 900.3,1468.6 909.1,1469.3 902.4,1475.1 904.9,1484.3 896.9,1479.1 888.9,1484.3 891.4,1475.1 884.6,1469.3 893.5,1468.6"/><polygon points="929.2,1461.2 932.6,1469.4 941.5,1470.1 934.7,1475.9 937.2,1485.1 929.2,1479.9 921.2,1485.1 923.7,1475.9 916.9,1470.1 925.8,1469.4"/><polygon points="961.5,1462.0 964.9,1470.2 973.8,1470.9 967.0,1476.7 969.5,1485.9 961.5,1480.7 953.5,1485.9 956.0,1476.7 949.3,1470.9 958.1,1470.2"/><polygon points="993.9,1462.8 997.3,1471.0 1006.1,1471.8 999.4,1477.5 1001.8,1486.7 993.9,1481.5 985.9,1486.7 988.3,1477.5 981.6,1471.8 990.4,1471.0"/><polygon points="1026.2,1463.6 1029.6,1471.8 1038.4,1472.5 1031.7,1478.3 1034.2,1487.5 1026.2,1482.3 1018.2,1487.5 1020.7,1478.3 1013.9,1472.5 1022.8,1471.8"/><polygon points="1058.5,1464.2 1061.9,1472.4 1070.8,1473.1 1064.0,1478.9 1066.5,1488.1 1058.5,1482.9 1050.5,1488.1 1053.0,1478.9 1046.2,1473.1 1055.1,1472.4"/><polygon points="1090.8,1464.6 1094.2,1472.8 1103.1,1473.5 1096.3,1479.3 1098.8,1488.5 1090.8,1483.3 1082.8,1488.5 1085.3,1479.3 1078.6,1473.5 1087.4,1472.8"/><polygon points="1123.2,1464.9 1126.6,1473.2 1135.4,1473.9 1128.7,1479.6 1131.1,1488.9 1123.2,1483.6 1115.2,1488.9 1117.6,1479.6 1110.9,1473.9 1119.7,1473.2"/><polygon points="1155.5,1465.3 1158.9,1473.5 1167.7,1474.2 1161.0,1480.0 1163.5,1489.2 1155.5,1484.0 1147.5,1489.2 1150.0,1480.0 1143.2,1474.2 1152.1,1473.5"/><polygon points="1187.8,1465.6 1191.2,1473.8 1200.1,1474.5 1193.3,1480.3 1195.8,1489.5 1187.8,1484.3 1179.8,1489.5 1182.3,1480.3 1175.5,1474.5 1184.4,1473.8"/><polygon points="1220.1,1465.9 1223.5,1474.1 1232.4,1474.8 1225.6,1480.6 1228.1,1489.8 1220.1,1484.6 1212.1,1489.8 1214.6,1480.6 1207.9,1474.8 1216.7,1474.1"/><polygon points="1252.4,1466.3 1255.9,1474.5 1264.7,1475.2 1258.0,1481.0 1260.4,1490.2 1252.4,1485.0 1244.5,1490.2 1246.9,1481.0 1240.2,1475.2 1249.0,1474.5"/><polygon points="1284.8,1466.7 1288.2,1474.9 1297.0,1475.6 1290.3,1481.4 1292.8,1490.6 1284.8,1485.4 1276.8,1490.6 1279.3,1481.4 1272.5,1475.6 1281.4,1474.9"/><polygon points="1317.1,1467.2 1320.5,1475.4 1329.4,1476.1 1322.6,1481.8 1325.1,1491.1 1317.1,1485.9 1309.1,1491.1 1311.6,1481.8 1304.8,1476.1 1313.7,1475.4"/><polygon points="1349.4,1467.5 1352.8,1475.8 1361.7,1476.5 1354.9,1482.2 1357.4,1491.4 1349.4,1486.2 1341.4,1491.4 1343.9,1482.2 1337.2,1476.5 1346.0,1475.8"/><polygon points="1381.8,1467.9 1385.2,1476.1 1394.0,1476.8 1387.3,1482.6 1389.7,1491.8 1381.8,1486.6 1373.8,1491.8 1376.2,1482.6 1369.5,1476.8 1378.3,1476.1"/><polygon points="1414.1,1468.2 1417.5,1476.4 1426.3,1477.1 1419.6,1482.9 1422.1,1492.1 1414.1,1486.9 1406.1,1492.1 1408.6,1482.9 1401.8,1477.1 1410.7,1476.4"/><polygon points="1446.4,1468.5 1449.8,1476.7 1458.7,1477.4 1451.9,1483.2 1454.4,1492.4 1446.4,1487.2 1438.4,1492.4 1440.9,1483.2 1434.1,1477.4 1443.0,1476.7"/><polygon points="1478.7,1468.7 1482.1,1476.9 1491.0,1477.6 1484.2,1483.4 1486.7,1492.6 1478.7,1487.4 1470.7,1492.6 1473.2,1483.4 1466.5,1477.6 1475.3,1476.9"/><polygon points="1511.0,1469.0 1514.5,1477.2 1523.3,1477.9 1516.6,1483.7 1519.0,1492.9 1511.0,1487.7 1503.1,1492.9 1505.5,1483.7 1498.8,1477.9 1507.6,1477.2"/><polygon points="1543.4,1469.2 1546.8,1477.5 1555.6,1478.2 1548.9,1483.9 1551.4,1493.1 1543.4,1487.9 1535.4,1493.1 1537.9,1483.9 1531.1,1478.2 1540.0,1477.5"/><polygon points="1575.7,1469.5 1579.1,1477.8 1588.0,1478.5 1581.2,1484.2 1583.7,1493.4 1575.7,1488.2 1567.7,1493.4 1570.2,1484.2 1563.4,1478.5 1572.3,1477.8"/><polygon points="1608.0,1469.9 1611.4,1478.1 1620.3,1478.8 1613.5,1484.6 1616.0,1493.8 1608.0,1488.6 1600.0,1493.8 1602.5,1484.6 1595.8,1478.8 1604.6,1478.1"/><polygon points="1640.3,1470.2 1643.8,1478.4 1652.6,1479.1 1645.9,1484.9 1648.3,1494.1 1640.3,1488.9 1632.4,1494.1 1634.8,1484.9 1628.1,1479.1 1636.9,1478.4"/><polygon points="1672.7,1470.5 1676.1,1478.7 1684.9,1479.4 1678.2,1485.2 1680.7,1494.4 1672.7,1489.2 1664.7,1494.4 1667.2,1485.2 1660.4,1479.4 1669.3,1478.7"/><polygon points="1705.0,1470.8 1708.4,1479.0 1717.3,1479.7 1710.5,1485.5 1713.0,1494.7 1705.0,1489.5 1697.0,1494.7 1699.5,1485.5 1692.7,1479.7 1701.6,1479.0"/><polygon points="1737.3,1471.1 1740.7,1479.3 1749.6,1480.0 1742.8,1485.8 1745.3,1495.0 1737.3,1489.8 1729.3,1495.0 1731.8,1485.8 1725.1,1480.0 1733.9,1479.3"/><polygon points="1769.6,1471.4 1773.1,1479.6 1781.9,1480.3 1775.2,1486.1 1777.6,1495.3 1769.6,1490.1 1761.7,1495.3 1764.1,1486.1 1757.4,1480.3 1766.2,1479.6"/><polygon points="1802.0,1471.7 1805.4,1479.9 1814.2,1480.6 1807.5,1486.3 1810.0,1495.6 1802.0,1490.4 1794.0,1495.6 1796.5,1486.3 1789.7,1480.6 1798.6,1479.9"/><polygon points="1834.3,1471.9 1837.7,1480.1 1846.6,1480.8 1839.8,1486.6 1842.3,1495.8 1834.3,1490.6 1826.3,1495.8 1828.8,1486.6 1822.0,1480.8 1830.9,1480.1"/><polygon points="1866.6,1472.2 1870.0,1480.4 1878.9,1481.1 1872.1,1486.9 1874.6,1496.1 1866.6,1490.9 1858.6,1496.1 1861.1,1486.9 1854.4,1481.1 1863.2,1480.4"/><polygon points="1899.0,1472.5 1902.4,1480.7 1911.2,1481.4 1904.5,1487.2 1906.9,1496.4 1899.0,1491.2 1891.0,1496.4 1893.4,1487.2 1886.7,1481.4 1895.5,1480.7"/><polygon points="1931.3,1472.7 1934.7,1480.9 1943.5,1481.7 1936.8,1487.4 1939.3,1496.6 1931.3,1491.4 1923.3,1496.6 1925.8,1487.4 1919.0,1481.7 1927.9,1480.9"/><polygon points="1963.6,1473.0 1967.0,1481.2 1975.9,1481.9 1969.1,1487.7 1971.6,1496.9 1963.6,1491.7 1955.6,1496.9 1958.1,1487.7 1951.3,1481.9 1960.2,1481.2"/><polygon points="1995.9,1473.3 1999.3,1481.5 2008.2,1482.2 2001.4,1487.9 2003.9,1497.2 1995.9,1492.0 1987.9,1497.2 1990.4,1487.9 1983.7,1482.2 1992.5,1481.5"/><polygon points="2028.2,1473.5 2031.7,1481.7 2040.5,1482.4 2033.8,1488.2 2036.2,1497.4 2028.2,1492.2 2020.3,1497.4 2022.7,1488.2 2016.0,1482.4 2024.8,1481.7"/><polygon points="2060.6,1473.7 2064.0,1482.0 2072.8,1482.7 2066.1,1488.4 2068.6,1497.6 2060.6,1492.4 2052.6,1497.6 2055.1,1488.4 2048.3,1482.7 2057.2,1482.0"/><polygon points="2092.9,1474.0 2096.3,1482.2 2105.2,1482.9 2098.4,1488.7 2100.9,1497.9 2092.9,1492.7 2084.9,1497.9 2087.4,1488.7 2080.6,1482.9 2089.5,1482.2"/><polygon points="2125.2,1474.2 2128.6,1482.4 2137.5,1483.1 2130.7,1488.9 2133.2,1498.1 2125.2,1492.9 2117.2,1498.1 2119.7,1488.9 2113.0,1483.1 2121.8,1482.4"/><polygon points="2157.6,1474.5 2161.0,1482.7 2169.8,1483.4 2163.1,1489.2 2165.5,1498.4 2157.6,1493.2 2149.6,1498.4 2152.0,1489.2 2145.3,1483.4 2154.1,1482.7"/><polygon points="2189.9,1474.7 2193.3,1482.9 2202.1,1483.6 2195.4,1489.4 2197.9,1498.6 2189.9,1493.4 2181.9,1498.6 2184.4,1489.4 2177.6,1483.6 2186.5,1482.9"/><polygon points="2222.2,1474.9 2225.6,1483.1 2234.5,1483.8 2227.7,1489.6 2230.2,1498.8 2222.2,1493.6 2214.2,1498.8 2216.7,1489.6 2209.9,1483.8 2218.8,1483.1"/><polygon points="2254.5,1475.1 2257.9,1483.3 2266.8,1484.1 2260.0,1489.8 2262.5,1499.0 2254.5,1493.8 2246.5,1499.0 2249.0,1489.8 2242.3,1484.1 2251.1,1483.3"/><polygon points="2286.8,1475.4 2290.3,1483.6 2299.1,1484.3 2292.4,1490.1 2294.8,1499.3 2286.8,1494.1 2278.9,1499.3 2281.3,1490.1 2274.6,1484.3 2283.4,1483.6"/><polygon points="2319.2,1475.6 2322.6,1483.8 2331.4,1484.5 2324.7,1490.3 2327.2,1499.5 2319.2,1494.3 2311.2,1499.5 2313.7,1490.3 2306.9,1484.5 2315.8,1483.8"/><polygon points="2351.5,1475.8 2354.9,1484.0 2363.8,1484.7 2357.0,1490.5 2359.5,1499.7 2351.5,1494.5 2343.5,1499.7 2346.0,1490.5 2339.2,1484.7 2348.1,1484.0"/></g>
</g>
<g stroke="#000" fill="none" stroke-linecap="round">
<path d="M315 29 V1585.5" stroke-width="6" stroke-linecap="butt"/>
<path d="M315 29 H2419.0" stroke-width="6" stroke-linecap="butt"/>
<path d="M2415.5 26 V1589.0" stroke-width="7" stroke-linecap="butt"/>
<path d="M315 1585.5 H2415.5" stroke-width="7" stroke-linecap="butt"/>
<path d="M285 1585.5 H315" stroke-width="7"/><path d="M299 1481.7 H315" stroke-width="6"/><path d="M285 1378.0 H315" stroke-width="6"/><path d="M299 1274.2 H315" stroke-width="6"/><path d="M285 1170.4 H315" stroke-width="6"/><path d="M299 1066.7 H315" stroke-width="6"/><path d="M285 962.9 H315" stroke-width="6"/><path d="M299 859.1 H315" stroke-width="6"/><path d="M285 755.3 H315" stroke-width="6"/><path d="M299 651.6 H315" stroke-width="6"/><path d="M285 547.8 H315" stroke-width="6"/><path d="M299 444.0 H315" stroke-width="6"/><path d="M285 340.3 H315" stroke-width="6"/><path d="M299 236.5 H315" stroke-width="6"/><path d="M285 132.7 H315" stroke-width="6"/><path d="M299 28.9 H315" stroke-width="6"/>
<path d="M412.0 1585.5 V1615.5" stroke-width="6"/><path d="M573.6 1585.5 V1599" stroke-width="6"/><path d="M735.2 1585.5 V1615.5" stroke-width="6"/><path d="M896.9 1585.5 V1599" stroke-width="6"/><path d="M1058.5 1585.5 V1615.5" stroke-width="6"/><path d="M1220.1 1585.5 V1599" stroke-width="6"/><path d="M1381.8 1585.5 V1615.5" stroke-width="6"/><path d="M1543.4 1585.5 V1599" stroke-width="6"/><path d="M1705.0 1585.5 V1615.5" stroke-width="6"/><path d="M1866.6 1585.5 V1599" stroke-width="6"/><path d="M2028.2 1585.5 V1615.5" stroke-width="6"/><path d="M2189.9 1585.5 V1599" stroke-width="6"/><path d="M2351.5 1585.5 V1615.5" stroke-width="6"/>
</g>
<g font-family="'Liberation Sans', Arial, Helvetica, sans-serif" fill="#000">
<text transform="translate(263.5 1605.5) scale(0.94 1)" font-size="68" text-anchor="end">0.0</text>
<text transform="translate(263.5 1398.0) scale(0.94 1)" font-size="68" text-anchor="end">0.2</text>
<text transform="translate(263.5 1190.4) scale(0.94 1)" font-size="68" text-anchor="end">0.4</text>
<text transform="translate(263.5 982.9) scale(0.94 1)" font-size="68" text-anchor="end">0.6</text>
<text transform="translate(263.5 775.3) scale(0.94 1)" font-size="68" text-anchor="end">0.8</text>
<text transform="translate(263.5 567.8) scale(0.94 1)" font-size="68" text-anchor="end">1.0</text>
<text transform="translate(263.5 360.3) scale(0.94 1)" font-size="68" text-anchor="end">1.2</text>
<text transform="translate(263.5 152.7) scale(0.94 1)" font-size="68" text-anchor="end">1.4</text>
<text transform="translate(411.5 1688.3) scale(0.965 1)" font-size="68" text-anchor="middle">400</text>
<text transform="translate(734.8 1688.3) scale(0.965 1)" font-size="68" text-anchor="middle">450</text>
<text transform="translate(1058.0 1688.3) scale(0.965 1)" font-size="68" text-anchor="middle">500</text>
<text transform="translate(1381.2 1688.3) scale(0.965 1)" font-size="68" text-anchor="middle">550</text>
<text transform="translate(1704.5 1688.3) scale(0.965 1)" font-size="68" text-anchor="middle">600</text>
<text transform="translate(2027.8 1688.3) scale(0.965 1)" font-size="68" text-anchor="middle">650</text>
<text transform="translate(2351.0 1688.3) scale(0.965 1)" font-size="68" text-anchor="middle">700</text>
<text x="1365.5" y="1816" font-size="81" text-anchor="middle">Wavelength (nm)</text>
<text transform="translate(88 819.3) rotate(-90)" font-size="81" text-anchor="middle">absorbance</text>
<rect x="1373.7" y="887.8" width="55.4" height="111.4" fill="#fff" stroke="#000" stroke-width="3" shape-rendering="crispEdges"/>
<text x="1379.9" y="970.5" font-size="81">a</text>
<rect x="2143.6" y="851.5" width="55.9" height="112.9" fill="#fff" stroke="#000" stroke-width="3" shape-rendering="crispEdges"/>
<text x="2149.8" y="936.3" font-size="81">b</text>
<rect x="1112.7" y="918.7" width="50.7" height="112.6" fill="#fff" stroke="#000" stroke-width="3" shape-rendering="crispEdges"/>
<text x="1119.0" y="1003.3" font-size="81">c</text>
<rect x="1826.5" y="1271.5" width="56.1" height="112.9" fill="#fff" stroke="#000" stroke-width="3" shape-rendering="crispEdges"/>
<text x="1832.9" y="1356.2" font-size="81">d</text>
<rect x="896.8" y="1123.9" width="55.6" height="111.4" fill="#fff" stroke="#000" stroke-width="3" shape-rendering="crispEdges"/>
<text x="901.9" y="1207.0" font-size="81">e</text>
<rect x="631.5" y="1326.9" width="30.0" height="108.7" fill="#fff" stroke="#000" stroke-width="3" shape-rendering="crispEdges"/>
<text x="635.9" y="1408.6" font-size="81">f</text>
<rect x="640.4" y="1093.3" width="56.0" height="113.3" fill="#fff" stroke="#000" stroke-width="3" shape-rendering="crispEdges"/>
<text x="646.6" y="1178.2" font-size="81">g</text>
<rect x="502.0" y="1479.2" width="56.3" height="100.0" fill="#fff" stroke="#000" stroke-width="3" shape-rendering="crispEdges"/>
<text x="508.7" y="1562.5" font-size="81">h</text>
<rect x="815.7" y="934.7" width="24.5" height="107.6" fill="#fff" stroke="#000" stroke-width="3" shape-rendering="crispEdges"/>
<text x="820.5" y="1016.9" font-size="81">i</text>
<rect x="748.8" y="1409.2" width="25.2" height="107.5" fill="#fff" stroke="#000" stroke-width="3" shape-rendering="crispEdges"/>
<text x="752.0" y="1491.0" font-size="81">j</text>
</g>
<path d="M814.2 981.9 L743.9 1019.9" stroke="#000" stroke-width="3"/><polygon points="708.7,1038.9 738.8,1010.5 749.0,1029.3" fill="#000"/>
<path d="M878.6 1181.3 L823.3 1121.8" stroke="#000" stroke-width="3"/><polygon points="796.1,1092.5 831.2,1114.5 815.5,1129.1" fill="#000"/>
</svg>
</body></html>
